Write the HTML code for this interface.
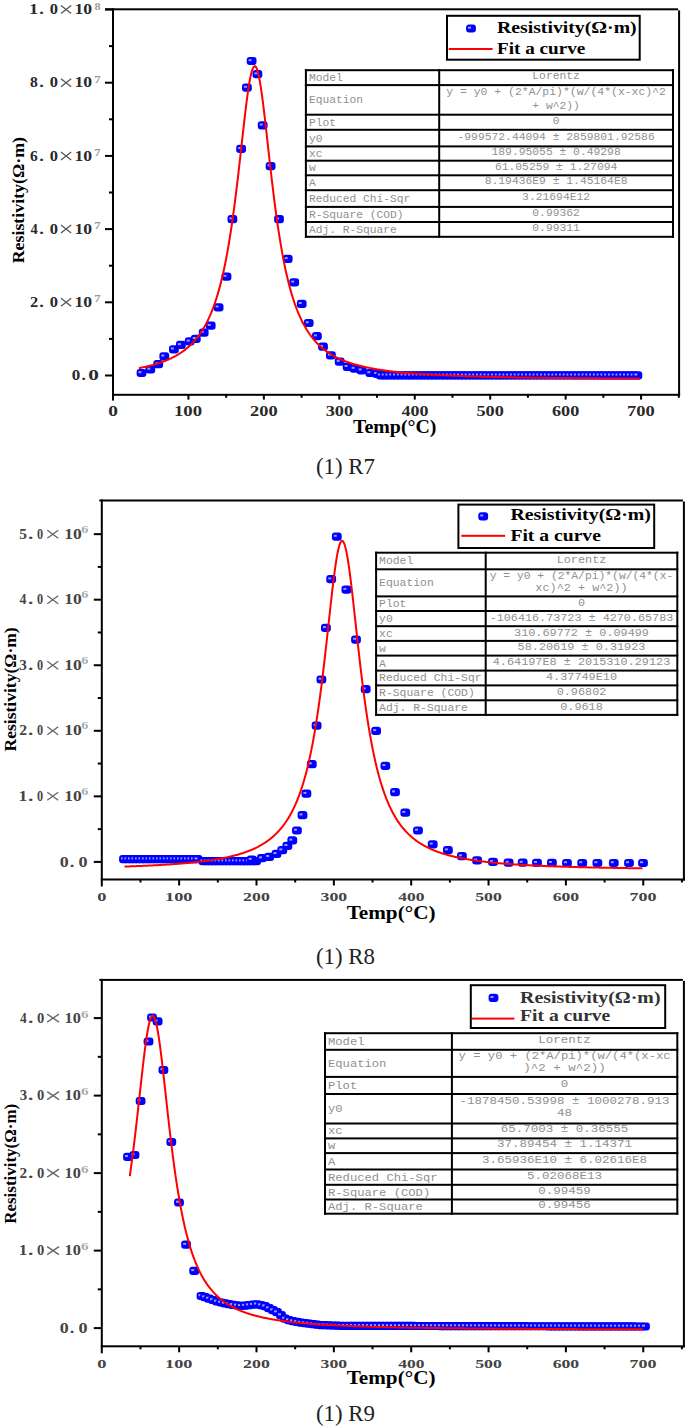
<!DOCTYPE html>
<html><head><meta charset="utf-8"><style>
html,body{margin:0;padding:0;background:#fff;}
body{width:685px;height:1426px;overflow:hidden;font-family:"Liberation Serif",serif;}
svg{display:block;}
</style></head><body>
<svg width="685" height="1426" viewBox="0 0 685 1426">
<rect width="685" height="1426" fill="#fff"/>
<rect x="105" y="8.3" width="573.1" height="2" fill="#000"/>
<rect x="678.1" y="10.3" width="2" height="385.5" fill="#000"/>
<rect x="112" y="8.3" width="2" height="392.3" fill="#000"/>
<rect x="112" y="393.8" width="568.1" height="2" fill="#000"/>
<rect x="105" y="374.5" width="8" height="2" fill="#000"/>
<rect x="109" y="337.9" width="4" height="2" fill="#000"/>
<rect x="105" y="301.3" width="8" height="2" fill="#000"/>
<rect x="109" y="264.7" width="4" height="2" fill="#000"/>
<rect x="105" y="228.1" width="8" height="2" fill="#000"/>
<rect x="109" y="191.5" width="4" height="2" fill="#000"/>
<rect x="105" y="154.9" width="8" height="2" fill="#000"/>
<rect x="109" y="118.3" width="4" height="2" fill="#000"/>
<rect x="105" y="81.7" width="8" height="2" fill="#000"/>
<rect x="109" y="45.1" width="4" height="2" fill="#000"/>
<rect x="105" y="8.5" width="8" height="2" fill="#000"/>
<rect x="187.44" y="394.8" width="2" height="4.8" fill="#000"/>
<rect x="225.16" y="394.8" width="2" height="3" fill="#000"/>
<rect x="262.88" y="394.8" width="2" height="4.8" fill="#000"/>
<rect x="300.6" y="394.8" width="2" height="3" fill="#000"/>
<rect x="338.32" y="394.8" width="2" height="4.8" fill="#000"/>
<rect x="376.04" y="394.8" width="2" height="3" fill="#000"/>
<rect x="413.76" y="394.8" width="2" height="4.8" fill="#000"/>
<rect x="451.48" y="394.8" width="2" height="3" fill="#000"/>
<rect x="489.2" y="394.8" width="2" height="4.8" fill="#000"/>
<rect x="526.92" y="394.8" width="2" height="3" fill="#000"/>
<rect x="564.64" y="394.8" width="2" height="4.8" fill="#000"/>
<rect x="602.36" y="394.8" width="2" height="3" fill="#000"/>
<rect x="640.08" y="394.8" width="2" height="4.8" fill="#000"/>
<rect x="677.8" y="394.8" width="2" height="3" fill="#000"/>
<text transform="translate(30.6,306.9) scale(1.1457,1)" x="-0.6" y="0" font-family="Liberation Serif" font-size="14.3" font-weight="bold" fill="#2a2a2a">2</text>
<text transform="translate(40,306.9) scale(1.2941,1)" x="-0.63" y="0" font-family="Liberation Serif" font-size="14.3" font-weight="bold" fill="#2a2a2a">.</text>
<text transform="translate(50.4,306.9) scale(1.1550,1)" x="-0.54" y="0" font-family="Liberation Serif" font-size="14.3" font-weight="bold" fill="#2a2a2a">0</text>
<path d="M61,298.3L71.2,306.3M61,306.3L71.2,298.3" stroke="#555" stroke-width="1.3" fill="none"/>
<text transform="translate(75.8,306.9) scale(1.2371,1)" x="-1.15" y="0" font-family="Liberation Serif" font-size="14.3" font-weight="bold" fill="#2a2a2a">10</text>
<text transform="translate(95,302.3) scale(1.2666,1)" x="-0.57" y="0" font-family="Liberation Serif" font-size="10" font-weight="bold" fill="#999">7</text>
<text transform="translate(30.6,233.7) scale(1.0166,1)" x="-0.2" y="0" font-family="Liberation Serif" font-size="14.3" font-weight="bold" fill="#2a2a2a">4</text>
<text transform="translate(40,233.7) scale(1.2941,1)" x="-0.63" y="0" font-family="Liberation Serif" font-size="14.3" font-weight="bold" fill="#2a2a2a">.</text>
<text transform="translate(50.4,233.7) scale(1.1550,1)" x="-0.54" y="0" font-family="Liberation Serif" font-size="14.3" font-weight="bold" fill="#2a2a2a">0</text>
<path d="M61,225.1L71.2,233.1M61,233.1L71.2,225.1" stroke="#555" stroke-width="1.3" fill="none"/>
<text transform="translate(75.8,233.7) scale(1.2371,1)" x="-1.15" y="0" font-family="Liberation Serif" font-size="14.3" font-weight="bold" fill="#2a2a2a">10</text>
<text transform="translate(95,229.1) scale(1.2666,1)" x="-0.57" y="0" font-family="Liberation Serif" font-size="10" font-weight="bold" fill="#999">7</text>
<text transform="translate(30.6,160.5) scale(1.0893,1)" x="-0.49" y="0" font-family="Liberation Serif" font-size="14.3" font-weight="bold" fill="#2a2a2a">6</text>
<text transform="translate(40,160.5) scale(1.2941,1)" x="-0.63" y="0" font-family="Liberation Serif" font-size="14.3" font-weight="bold" fill="#2a2a2a">.</text>
<text transform="translate(50.4,160.5) scale(1.1550,1)" x="-0.54" y="0" font-family="Liberation Serif" font-size="14.3" font-weight="bold" fill="#2a2a2a">0</text>
<path d="M61,151.9L71.2,159.9M61,159.9L71.2,151.9" stroke="#555" stroke-width="1.3" fill="none"/>
<text transform="translate(75.8,160.5) scale(1.2371,1)" x="-1.15" y="0" font-family="Liberation Serif" font-size="14.3" font-weight="bold" fill="#2a2a2a">10</text>
<text transform="translate(95,155.9) scale(1.2666,1)" x="-0.57" y="0" font-family="Liberation Serif" font-size="10" font-weight="bold" fill="#999">7</text>
<text transform="translate(30.6,87.3) scale(1.0967,1)" x="-0.47" y="0" font-family="Liberation Serif" font-size="14.3" font-weight="bold" fill="#2a2a2a">8</text>
<text transform="translate(40,87.3) scale(1.2941,1)" x="-0.63" y="0" font-family="Liberation Serif" font-size="14.3" font-weight="bold" fill="#2a2a2a">.</text>
<text transform="translate(50.4,87.3) scale(1.1550,1)" x="-0.54" y="0" font-family="Liberation Serif" font-size="14.3" font-weight="bold" fill="#2a2a2a">0</text>
<path d="M61,78.7L71.2,86.7M61,86.7L71.2,78.7" stroke="#555" stroke-width="1.3" fill="none"/>
<text transform="translate(75.8,87.3) scale(1.2371,1)" x="-1.15" y="0" font-family="Liberation Serif" font-size="14.3" font-weight="bold" fill="#2a2a2a">10</text>
<text transform="translate(95,82.7) scale(1.2666,1)" x="-0.57" y="0" font-family="Liberation Serif" font-size="10" font-weight="bold" fill="#999">7</text>
<text transform="translate(30.6,14.1) scale(1.2916,1)" x="-1.15" y="0" font-family="Liberation Serif" font-size="14.3" font-weight="bold" fill="#2a2a2a">1</text>
<text transform="translate(40,14.1) scale(1.2941,1)" x="-0.63" y="0" font-family="Liberation Serif" font-size="14.3" font-weight="bold" fill="#2a2a2a">.</text>
<text transform="translate(50.4,14.1) scale(1.1550,1)" x="-0.54" y="0" font-family="Liberation Serif" font-size="14.3" font-weight="bold" fill="#2a2a2a">0</text>
<path d="M61,5.5L71.2,13.5M61,13.5L71.2,5.5" stroke="#555" stroke-width="1.3" fill="none"/>
<text transform="translate(75.8,14.1) scale(1.2371,1)" x="-1.15" y="0" font-family="Liberation Serif" font-size="14.3" font-weight="bold" fill="#2a2a2a">10</text>
<text transform="translate(95,9.5) scale(1.2223,1)" x="-0.33" y="0" font-family="Liberation Serif" font-size="10" font-weight="bold" fill="#999">8</text>
<text transform="translate(72.3,380.1) scale(1.1880,1)" x="-0.54" y="0" font-family="Liberation Serif" font-size="14.3" font-weight="bold" fill="#2a2a2a">0</text>
<text transform="translate(82.2,380.1) scale(1.2079,1)" x="-0.63" y="0" font-family="Liberation Serif" font-size="14.3" font-weight="bold" fill="#2a2a2a">.</text>
<text transform="translate(89,380.1) scale(1.4850,1)" x="-0.54" y="0" font-family="Liberation Serif" font-size="14.3" font-weight="bold" fill="#2a2a2a">0</text>
<text transform="translate(108.9,416.2) scale(1.4020,1)" x="-0.53" y="0" font-family="Liberation Serif" font-size="13.8" font-weight="bold" fill="#2a2a2a">0</text>
<text transform="translate(175.44,416.2) scale(1.3634,1)" x="-1.11" y="0" font-family="Liberation Serif" font-size="13.8" font-weight="bold" fill="#2a2a2a">100</text>
<text transform="translate(250.88,416.2) scale(1.3269,1)" x="-0.58" y="0" font-family="Liberation Serif" font-size="13.8" font-weight="bold" fill="#2a2a2a">200</text>
<text transform="translate(326.32,416.2) scale(1.3228,1)" x="-0.52" y="0" font-family="Liberation Serif" font-size="13.8" font-weight="bold" fill="#2a2a2a">300</text>
<text transform="translate(401.76,416.2) scale(1.3009,1)" x="-0.19" y="0" font-family="Liberation Serif" font-size="13.8" font-weight="bold" fill="#2a2a2a">400</text>
<text transform="translate(477.2,416.2) scale(1.3251,1)" x="-0.55" y="0" font-family="Liberation Serif" font-size="13.8" font-weight="bold" fill="#2a2a2a">500</text>
<text transform="translate(552.64,416.2) scale(1.3196,1)" x="-0.47" y="0" font-family="Liberation Serif" font-size="13.8" font-weight="bold" fill="#2a2a2a">600</text>
<text transform="translate(628.08,416.2) scale(1.3412,1)" x="-0.79" y="0" font-family="Liberation Serif" font-size="13.8" font-weight="bold" fill="#2a2a2a">700</text>
<text x="353" y="433.2" font-family="Liberation Serif" font-size="18.5" font-weight="bold" fill="#000" text-anchor="start" textLength="83.5" lengthAdjust="spacingAndGlyphs">Temp(°C)</text>
<text transform="translate(24.2,263.3) rotate(-90)" x="0" y="0" font-family="Liberation Serif" font-size="17.5" font-weight="bold" fill="#000" textLength="126.3" lengthAdjust="spacingAndGlyphs">Resistivity(Ω·m)</text>
<text x="316" y="473.5" font-family="Liberation Serif" font-size="23" font-weight="normal" fill="#222" text-anchor="start" textLength="59" lengthAdjust="spacingAndGlyphs">(1) R7</text>
<rect x="136.6" y="368.9" width="9.8" height="8.2" rx="3" fill="#0000ff"/>
<rect x="138.5" y="371.2" width="3" height="2" fill="#9a9aff"/>
<rect x="145.4" y="365.4" width="9.8" height="8.2" rx="3" fill="#0000ff"/>
<rect x="147.3" y="367.7" width="3" height="2" fill="#9a9aff"/>
<rect x="153.3" y="360.1" width="9.8" height="8.2" rx="3" fill="#0000ff"/>
<rect x="155.2" y="362.4" width="3" height="2" fill="#9a9aff"/>
<rect x="159.4" y="352.2" width="9.8" height="8.2" rx="3" fill="#0000ff"/>
<rect x="161.3" y="354.5" width="3" height="2" fill="#9a9aff"/>
<rect x="169" y="345.2" width="9.8" height="8.2" rx="3" fill="#0000ff"/>
<rect x="170.9" y="347.5" width="3" height="2" fill="#9a9aff"/>
<rect x="176" y="340.8" width="9.8" height="8.2" rx="3" fill="#0000ff"/>
<rect x="177.9" y="343.1" width="3" height="2" fill="#9a9aff"/>
<rect x="184.8" y="337.3" width="9.8" height="8.2" rx="3" fill="#0000ff"/>
<rect x="186.7" y="339.6" width="3" height="2" fill="#9a9aff"/>
<rect x="190.9" y="334.7" width="9.8" height="8.2" rx="3" fill="#0000ff"/>
<rect x="192.8" y="337" width="3" height="2" fill="#9a9aff"/>
<rect x="198.8" y="328.6" width="9.8" height="8.2" rx="3" fill="#0000ff"/>
<rect x="200.7" y="330.9" width="3" height="2" fill="#9a9aff"/>
<rect x="205.8" y="321.6" width="9.8" height="8.2" rx="3" fill="#0000ff"/>
<rect x="207.7" y="323.9" width="3" height="2" fill="#9a9aff"/>
<rect x="213.7" y="303.2" width="9.8" height="8.2" rx="3" fill="#0000ff"/>
<rect x="215.6" y="305.5" width="3" height="2" fill="#9a9aff"/>
<rect x="221.6" y="272.5" width="9.8" height="8.2" rx="3" fill="#0000ff"/>
<rect x="223.5" y="274.8" width="3" height="2" fill="#9a9aff"/>
<rect x="227.5" y="215.1" width="9.8" height="8.2" rx="3" fill="#0000ff"/>
<rect x="229.4" y="217.4" width="3" height="2" fill="#9a9aff"/>
<rect x="236.2" y="144.8" width="9.8" height="8.2" rx="3" fill="#0000ff"/>
<rect x="238.1" y="147.1" width="3" height="2" fill="#9a9aff"/>
<rect x="242" y="83.5" width="9.8" height="8.2" rx="3" fill="#0000ff"/>
<rect x="243.9" y="85.8" width="3" height="2" fill="#9a9aff"/>
<rect x="246.7" y="56.9" width="9.8" height="8.2" rx="3" fill="#0000ff"/>
<rect x="248.6" y="59.2" width="3" height="2" fill="#9a9aff"/>
<rect x="252.5" y="70.1" width="9.8" height="8.2" rx="3" fill="#0000ff"/>
<rect x="254.4" y="72.4" width="3" height="2" fill="#9a9aff"/>
<rect x="257.8" y="121.2" width="9.8" height="8.2" rx="3" fill="#0000ff"/>
<rect x="259.7" y="123.5" width="3" height="2" fill="#9a9aff"/>
<rect x="265.7" y="162" width="9.8" height="8.2" rx="3" fill="#0000ff"/>
<rect x="267.6" y="164.3" width="3" height="2" fill="#9a9aff"/>
<rect x="274.1" y="215.1" width="9.8" height="8.2" rx="3" fill="#0000ff"/>
<rect x="276" y="217.4" width="3" height="2" fill="#9a9aff"/>
<rect x="282.8" y="254.8" width="9.8" height="8.2" rx="3" fill="#0000ff"/>
<rect x="284.7" y="257.1" width="3" height="2" fill="#9a9aff"/>
<rect x="289.3" y="278.3" width="9.8" height="8.2" rx="3" fill="#0000ff"/>
<rect x="291.2" y="280.6" width="3" height="2" fill="#9a9aff"/>
<rect x="296.8" y="299.7" width="9.8" height="8.2" rx="3" fill="#0000ff"/>
<rect x="298.7" y="302" width="3" height="2" fill="#9a9aff"/>
<rect x="303.8" y="318.9" width="9.8" height="8.2" rx="3" fill="#0000ff"/>
<rect x="305.7" y="321.2" width="3" height="2" fill="#9a9aff"/>
<rect x="312" y="332.1" width="9.8" height="8.2" rx="3" fill="#0000ff"/>
<rect x="313.9" y="334.4" width="3" height="2" fill="#9a9aff"/>
<rect x="318.1" y="342.6" width="9.8" height="8.2" rx="3" fill="#0000ff"/>
<rect x="320" y="344.9" width="3" height="2" fill="#9a9aff"/>
<rect x="326" y="351.3" width="9.8" height="8.2" rx="3" fill="#0000ff"/>
<rect x="327.9" y="353.6" width="3" height="2" fill="#9a9aff"/>
<rect x="334.8" y="357.5" width="9.8" height="8.2" rx="3" fill="#0000ff"/>
<rect x="336.7" y="359.8" width="3" height="2" fill="#9a9aff"/>
<rect x="342.7" y="362.7" width="9.8" height="8.2" rx="3" fill="#0000ff"/>
<rect x="344.6" y="365" width="3" height="2" fill="#9a9aff"/>
<rect x="349.7" y="364.5" width="9.8" height="8.2" rx="3" fill="#0000ff"/>
<rect x="351.6" y="366.8" width="3" height="2" fill="#9a9aff"/>
<rect x="356.7" y="366.2" width="9.8" height="8.2" rx="3" fill="#0000ff"/>
<rect x="358.6" y="368.5" width="3" height="2" fill="#9a9aff"/>
<rect x="365.4" y="368.9" width="9.8" height="8.2" rx="3" fill="#0000ff"/>
<rect x="367.3" y="371.2" width="3" height="2" fill="#9a9aff"/>
<rect x="372.4" y="369.7" width="9.8" height="8.2" rx="3" fill="#0000ff"/>
<rect x="374.3" y="372" width="3" height="2" fill="#9a9aff"/>
<rect x="376.1" y="371.2" width="9.8" height="8.2" rx="3" fill="#0000ff"/>
<rect x="378" y="373.5" width="3" height="2" fill="#9a9aff"/>
<rect x="379.87" y="371.2" width="9.8" height="8.2" rx="3" fill="#0000ff"/>
<rect x="381.77" y="373.5" width="3" height="2" fill="#9a9aff"/>
<rect x="383.64" y="371.2" width="9.8" height="8.2" rx="3" fill="#0000ff"/>
<rect x="385.54" y="373.5" width="3" height="2" fill="#9a9aff"/>
<rect x="387.41" y="371.2" width="9.8" height="8.2" rx="3" fill="#0000ff"/>
<rect x="389.31" y="373.5" width="3" height="2" fill="#9a9aff"/>
<rect x="391.18" y="371.2" width="9.8" height="8.2" rx="3" fill="#0000ff"/>
<rect x="393.08" y="373.5" width="3" height="2" fill="#9a9aff"/>
<rect x="394.95" y="371.2" width="9.8" height="8.2" rx="3" fill="#0000ff"/>
<rect x="396.85" y="373.5" width="3" height="2" fill="#9a9aff"/>
<rect x="398.72" y="371.2" width="9.8" height="8.2" rx="3" fill="#0000ff"/>
<rect x="400.62" y="373.5" width="3" height="2" fill="#9a9aff"/>
<rect x="402.49" y="371.2" width="9.8" height="8.2" rx="3" fill="#0000ff"/>
<rect x="404.39" y="373.5" width="3" height="2" fill="#9a9aff"/>
<rect x="406.26" y="371.2" width="9.8" height="8.2" rx="3" fill="#0000ff"/>
<rect x="408.16" y="373.5" width="3" height="2" fill="#9a9aff"/>
<rect x="410.03" y="371.2" width="9.8" height="8.2" rx="3" fill="#0000ff"/>
<rect x="411.93" y="373.5" width="3" height="2" fill="#9a9aff"/>
<rect x="413.8" y="371.2" width="9.8" height="8.2" rx="3" fill="#0000ff"/>
<rect x="415.7" y="373.5" width="3" height="2" fill="#9a9aff"/>
<rect x="417.57" y="371.2" width="9.8" height="8.2" rx="3" fill="#0000ff"/>
<rect x="419.47" y="373.5" width="3" height="2" fill="#9a9aff"/>
<rect x="421.34" y="371.2" width="9.8" height="8.2" rx="3" fill="#0000ff"/>
<rect x="423.24" y="373.5" width="3" height="2" fill="#9a9aff"/>
<rect x="425.11" y="371.2" width="9.8" height="8.2" rx="3" fill="#0000ff"/>
<rect x="427.01" y="373.5" width="3" height="2" fill="#9a9aff"/>
<rect x="428.88" y="371.2" width="9.8" height="8.2" rx="3" fill="#0000ff"/>
<rect x="430.78" y="373.5" width="3" height="2" fill="#9a9aff"/>
<rect x="432.65" y="371.2" width="9.8" height="8.2" rx="3" fill="#0000ff"/>
<rect x="434.55" y="373.5" width="3" height="2" fill="#9a9aff"/>
<rect x="436.42" y="371.2" width="9.8" height="8.2" rx="3" fill="#0000ff"/>
<rect x="438.32" y="373.5" width="3" height="2" fill="#9a9aff"/>
<rect x="440.19" y="371.2" width="9.8" height="8.2" rx="3" fill="#0000ff"/>
<rect x="442.09" y="373.5" width="3" height="2" fill="#9a9aff"/>
<rect x="443.96" y="371.2" width="9.8" height="8.2" rx="3" fill="#0000ff"/>
<rect x="445.86" y="373.5" width="3" height="2" fill="#9a9aff"/>
<rect x="447.73" y="371.2" width="9.8" height="8.2" rx="3" fill="#0000ff"/>
<rect x="449.63" y="373.5" width="3" height="2" fill="#9a9aff"/>
<rect x="451.5" y="371.2" width="9.8" height="8.2" rx="3" fill="#0000ff"/>
<rect x="453.4" y="373.5" width="3" height="2" fill="#9a9aff"/>
<rect x="455.27" y="371.2" width="9.8" height="8.2" rx="3" fill="#0000ff"/>
<rect x="457.17" y="373.5" width="3" height="2" fill="#9a9aff"/>
<rect x="459.04" y="371.2" width="9.8" height="8.2" rx="3" fill="#0000ff"/>
<rect x="460.94" y="373.5" width="3" height="2" fill="#9a9aff"/>
<rect x="462.81" y="371.2" width="9.8" height="8.2" rx="3" fill="#0000ff"/>
<rect x="464.71" y="373.5" width="3" height="2" fill="#9a9aff"/>
<rect x="466.58" y="371.2" width="9.8" height="8.2" rx="3" fill="#0000ff"/>
<rect x="468.48" y="373.5" width="3" height="2" fill="#9a9aff"/>
<rect x="470.35" y="371.2" width="9.8" height="8.2" rx="3" fill="#0000ff"/>
<rect x="472.25" y="373.5" width="3" height="2" fill="#9a9aff"/>
<rect x="474.12" y="371.2" width="9.8" height="8.2" rx="3" fill="#0000ff"/>
<rect x="476.02" y="373.5" width="3" height="2" fill="#9a9aff"/>
<rect x="477.89" y="371.2" width="9.8" height="8.2" rx="3" fill="#0000ff"/>
<rect x="479.79" y="373.5" width="3" height="2" fill="#9a9aff"/>
<rect x="481.66" y="371.2" width="9.8" height="8.2" rx="3" fill="#0000ff"/>
<rect x="483.56" y="373.5" width="3" height="2" fill="#9a9aff"/>
<rect x="485.43" y="371.2" width="9.8" height="8.2" rx="3" fill="#0000ff"/>
<rect x="487.33" y="373.5" width="3" height="2" fill="#9a9aff"/>
<rect x="489.2" y="371.2" width="9.8" height="8.2" rx="3" fill="#0000ff"/>
<rect x="491.1" y="373.5" width="3" height="2" fill="#9a9aff"/>
<rect x="492.97" y="371.2" width="9.8" height="8.2" rx="3" fill="#0000ff"/>
<rect x="494.87" y="373.5" width="3" height="2" fill="#9a9aff"/>
<rect x="496.74" y="371.2" width="9.8" height="8.2" rx="3" fill="#0000ff"/>
<rect x="498.64" y="373.5" width="3" height="2" fill="#9a9aff"/>
<rect x="500.51" y="371.2" width="9.8" height="8.2" rx="3" fill="#0000ff"/>
<rect x="502.41" y="373.5" width="3" height="2" fill="#9a9aff"/>
<rect x="504.28" y="371.2" width="9.8" height="8.2" rx="3" fill="#0000ff"/>
<rect x="506.18" y="373.5" width="3" height="2" fill="#9a9aff"/>
<rect x="508.05" y="371.2" width="9.8" height="8.2" rx="3" fill="#0000ff"/>
<rect x="509.95" y="373.5" width="3" height="2" fill="#9a9aff"/>
<rect x="511.82" y="371.2" width="9.8" height="8.2" rx="3" fill="#0000ff"/>
<rect x="513.72" y="373.5" width="3" height="2" fill="#9a9aff"/>
<rect x="515.59" y="371.2" width="9.8" height="8.2" rx="3" fill="#0000ff"/>
<rect x="517.49" y="373.5" width="3" height="2" fill="#9a9aff"/>
<rect x="519.36" y="371.2" width="9.8" height="8.2" rx="3" fill="#0000ff"/>
<rect x="521.26" y="373.5" width="3" height="2" fill="#9a9aff"/>
<rect x="523.13" y="371.2" width="9.8" height="8.2" rx="3" fill="#0000ff"/>
<rect x="525.03" y="373.5" width="3" height="2" fill="#9a9aff"/>
<rect x="526.9" y="371.2" width="9.8" height="8.2" rx="3" fill="#0000ff"/>
<rect x="528.8" y="373.5" width="3" height="2" fill="#9a9aff"/>
<rect x="530.67" y="371.2" width="9.8" height="8.2" rx="3" fill="#0000ff"/>
<rect x="532.57" y="373.5" width="3" height="2" fill="#9a9aff"/>
<rect x="534.44" y="371.2" width="9.8" height="8.2" rx="3" fill="#0000ff"/>
<rect x="536.34" y="373.5" width="3" height="2" fill="#9a9aff"/>
<rect x="538.21" y="371.2" width="9.8" height="8.2" rx="3" fill="#0000ff"/>
<rect x="540.11" y="373.5" width="3" height="2" fill="#9a9aff"/>
<rect x="541.98" y="371.2" width="9.8" height="8.2" rx="3" fill="#0000ff"/>
<rect x="543.88" y="373.5" width="3" height="2" fill="#9a9aff"/>
<rect x="545.75" y="371.2" width="9.8" height="8.2" rx="3" fill="#0000ff"/>
<rect x="547.65" y="373.5" width="3" height="2" fill="#9a9aff"/>
<rect x="549.52" y="371.2" width="9.8" height="8.2" rx="3" fill="#0000ff"/>
<rect x="551.42" y="373.5" width="3" height="2" fill="#9a9aff"/>
<rect x="553.29" y="371.2" width="9.8" height="8.2" rx="3" fill="#0000ff"/>
<rect x="555.19" y="373.5" width="3" height="2" fill="#9a9aff"/>
<rect x="557.06" y="371.2" width="9.8" height="8.2" rx="3" fill="#0000ff"/>
<rect x="558.96" y="373.5" width="3" height="2" fill="#9a9aff"/>
<rect x="560.83" y="371.2" width="9.8" height="8.2" rx="3" fill="#0000ff"/>
<rect x="562.73" y="373.5" width="3" height="2" fill="#9a9aff"/>
<rect x="564.6" y="371.2" width="9.8" height="8.2" rx="3" fill="#0000ff"/>
<rect x="566.5" y="373.5" width="3" height="2" fill="#9a9aff"/>
<rect x="568.37" y="371.2" width="9.8" height="8.2" rx="3" fill="#0000ff"/>
<rect x="570.27" y="373.5" width="3" height="2" fill="#9a9aff"/>
<rect x="572.14" y="371.2" width="9.8" height="8.2" rx="3" fill="#0000ff"/>
<rect x="574.04" y="373.5" width="3" height="2" fill="#9a9aff"/>
<rect x="575.91" y="371.2" width="9.8" height="8.2" rx="3" fill="#0000ff"/>
<rect x="577.81" y="373.5" width="3" height="2" fill="#9a9aff"/>
<rect x="579.68" y="371.2" width="9.8" height="8.2" rx="3" fill="#0000ff"/>
<rect x="581.58" y="373.5" width="3" height="2" fill="#9a9aff"/>
<rect x="583.45" y="371.2" width="9.8" height="8.2" rx="3" fill="#0000ff"/>
<rect x="585.35" y="373.5" width="3" height="2" fill="#9a9aff"/>
<rect x="587.22" y="371.2" width="9.8" height="8.2" rx="3" fill="#0000ff"/>
<rect x="589.12" y="373.5" width="3" height="2" fill="#9a9aff"/>
<rect x="590.99" y="371.2" width="9.8" height="8.2" rx="3" fill="#0000ff"/>
<rect x="592.89" y="373.5" width="3" height="2" fill="#9a9aff"/>
<rect x="594.76" y="371.2" width="9.8" height="8.2" rx="3" fill="#0000ff"/>
<rect x="596.66" y="373.5" width="3" height="2" fill="#9a9aff"/>
<rect x="598.53" y="371.2" width="9.8" height="8.2" rx="3" fill="#0000ff"/>
<rect x="600.43" y="373.5" width="3" height="2" fill="#9a9aff"/>
<rect x="602.3" y="371.2" width="9.8" height="8.2" rx="3" fill="#0000ff"/>
<rect x="604.2" y="373.5" width="3" height="2" fill="#9a9aff"/>
<rect x="606.07" y="371.2" width="9.8" height="8.2" rx="3" fill="#0000ff"/>
<rect x="607.97" y="373.5" width="3" height="2" fill="#9a9aff"/>
<rect x="609.84" y="371.2" width="9.8" height="8.2" rx="3" fill="#0000ff"/>
<rect x="611.74" y="373.5" width="3" height="2" fill="#9a9aff"/>
<rect x="613.61" y="371.2" width="9.8" height="8.2" rx="3" fill="#0000ff"/>
<rect x="615.51" y="373.5" width="3" height="2" fill="#9a9aff"/>
<rect x="617.38" y="371.2" width="9.8" height="8.2" rx="3" fill="#0000ff"/>
<rect x="619.28" y="373.5" width="3" height="2" fill="#9a9aff"/>
<rect x="621.15" y="371.2" width="9.8" height="8.2" rx="3" fill="#0000ff"/>
<rect x="623.05" y="373.5" width="3" height="2" fill="#9a9aff"/>
<rect x="624.92" y="371.2" width="9.8" height="8.2" rx="3" fill="#0000ff"/>
<rect x="626.82" y="373.5" width="3" height="2" fill="#9a9aff"/>
<rect x="628.69" y="371.2" width="9.8" height="8.2" rx="3" fill="#0000ff"/>
<rect x="630.59" y="373.5" width="3" height="2" fill="#9a9aff"/>
<rect x="632.46" y="371.2" width="9.8" height="8.2" rx="3" fill="#0000ff"/>
<rect x="634.36" y="373.5" width="3" height="2" fill="#9a9aff"/>
<polyline points="138.9,368.16 139.9,367.97 140.9,367.77 141.9,367.56 142.9,367.35 143.9,367.14 144.9,366.92 145.9,366.69 146.9,366.46 147.9,366.22 148.9,365.97 149.9,365.72 150.9,365.46 151.9,365.2 152.9,364.92 153.9,364.64 154.9,364.36 155.9,364.06 156.9,363.75 157.9,363.44 158.9,363.12 159.9,362.78 160.9,362.44 161.9,362.09 162.9,361.72 163.9,361.35 164.9,360.96 165.9,360.56 166.9,360.15 167.9,359.72 168.9,359.29 169.9,358.83 170.9,358.37 171.9,357.88 172.9,357.39 173.9,356.87 174.9,356.34 175.9,355.79 176.9,355.21 177.9,354.62 178.9,354.01 179.9,353.38 180.9,352.72 181.9,352.04 182.9,351.34 183.9,350.6 184.9,349.84 185.9,349.05 186.9,348.23 187.9,347.38 188.9,346.5 189.9,345.58 190.9,344.62 191.9,343.62 192.9,342.58 193.9,341.5 194.9,340.38 195.9,339.2 196.9,337.98 197.9,336.7 198.9,335.36 199.9,333.97 200.9,332.51 201.9,330.99 202.9,329.39 203.9,327.72 204.9,325.98 205.9,324.15 206.9,322.23 207.9,320.22 208.9,318.11 209.9,315.89 210.9,313.57 211.9,311.12 212.9,308.56 213.9,305.86 214.9,303.02 215.9,300.04 216.9,296.89 217.9,293.59 218.9,290.1 219.9,286.43 220.9,282.57 221.9,278.5 222.9,274.21 223.9,269.69 224.9,264.94 225.9,259.93 226.9,254.66 227.9,249.11 228.9,243.29 229.9,237.17 230.9,230.75 231.9,224.03 232.9,217.01 233.9,209.68 234.9,202.05 235.9,194.14 236.9,185.95 237.9,177.52 238.9,168.88 239.9,160.07 240.9,151.13 241.9,142.15 242.9,133.18 243.9,124.33 244.9,115.68 245.9,107.35 246.9,99.46 247.9,92.13 248.9,85.49 249.9,79.65 250.9,74.74 251.9,70.86 252.9,68.08 253.9,66.48 254.9,66.09 255.9,66.92 256.9,68.95 257.9,72.13 258.9,76.4 259.9,81.65 260.9,87.79 261.9,94.7 262.9,102.24 263.9,110.31 264.9,118.76 265.9,127.49 266.9,136.4 267.9,145.38 268.9,154.36 269.9,163.26 270.9,172.01 271.9,180.59 272.9,188.93 273.9,197.02 274.9,204.83 275.9,212.35 276.9,219.57 277.9,226.49 278.9,233.1 279.9,239.41 280.9,245.42 281.9,251.14 282.9,256.59 283.9,261.76 284.9,266.68 285.9,271.35 286.9,275.78 287.9,279.99 288.9,283.98 289.9,287.78 290.9,291.38 291.9,294.8 292.9,298.04 293.9,301.13 294.9,304.06 295.9,306.85 296.9,309.5 297.9,312.02 298.9,314.42 299.9,316.7 300.9,318.88 301.9,320.95 302.9,322.93 303.9,324.81 304.9,326.61 305.9,328.33 306.9,329.97 307.9,331.54 308.9,333.04 309.9,334.48 310.9,335.85 311.9,337.16 312.9,338.42 313.9,339.63 314.9,340.79 315.9,341.9 316.9,342.96 317.9,343.99 318.9,344.97 319.9,345.91 320.9,346.82 321.9,347.69 322.9,348.53 323.9,349.34 324.9,350.12 325.9,350.87 326.9,351.59 327.9,352.29 328.9,352.96 329.9,353.61 330.9,354.23 331.9,354.84 332.9,355.42 333.9,355.99 334.9,356.53 335.9,357.06 336.9,357.57 337.9,358.06 338.9,358.54 339.9,359 340.9,359.45 341.9,359.88 342.9,360.3 343.9,360.71 344.9,361.1 345.9,361.48 346.9,361.85 347.9,362.21 348.9,362.56 349.9,362.9 350.9,363.23 351.9,363.55 352.9,363.86 353.9,364.17 354.9,364.46 355.9,364.75 356.9,365.02 357.9,365.29 358.9,365.56 359.9,365.81 360.9,366.06 361.9,366.31 362.9,366.54 363.9,366.77 364.9,367 365.9,367.22 366.9,367.43 367.9,367.64 368.9,367.84 369.9,368.04 370.9,368.23 371.9,368.42 372.9,368.6 373.9,368.78 374.9,368.96 375.9,369.13 376.9,369.29 377.9,369.46 378.9,369.62 379.9,369.77 380.9,369.92 381.9,370.07 382.9,370.22 383.9,370.36 384.9,370.5 385.9,370.64 386.9,370.77 387.9,370.9 388.9,371.03 389.9,371.15 390.9,371.27 391.9,371.39 392.9,371.51 393.9,371.62 394.9,371.74 395.9,371.85 396.9,371.95 397.9,372.06 398.9,372.16 399.9,372.26 400.9,372.36 401.9,372.46 402.9,372.56 403.9,372.65 404.9,372.74 405.9,372.83 406.9,372.92 407.9,373.01 408.9,373.09 409.9,373.17 410.9,373.26 411.9,373.34 412.9,373.42 413.9,373.49 414.9,373.57 415.9,373.64 416.9,373.72 417.9,373.79 418.9,373.86 419.9,373.93 420.9,374 421.9,374.06 422.9,374.13 423.9,374.19 424.9,374.26 425.9,374.32 426.9,374.38 427.9,374.44 428.9,374.5 429.9,374.56 430.9,374.62 431.9,374.67 432.9,374.73 433.9,374.78 434.9,374.84 435.9,374.89 436.9,374.94 437.9,374.99 438.9,375.05 439.9,375.09 440.9,375.14 441.9,375.19 442.9,375.24 443.9,375.29 444.9,375.33 445.9,375.38 446.9,375.42 447.9,375.46 448.9,375.51 449.9,375.55 450.9,375.59 451.9,375.63 452.9,375.67 453.9,375.71 454.9,375.75 455.9,375.79 456.9,375.83 457.9,375.87 458.9,375.91 459.9,375.94 460.9,375.98 461.9,376.01 462.9,376.05 463.9,376.08 464.9,376.12 465.9,376.15 466.9,376.18 467.9,376.22 468.9,376.25 469.9,376.28 470.9,376.31 471.9,376.34 472.9,376.37 473.9,376.4 474.9,376.43 475.9,376.46 476.9,376.49 477.9,376.52 478.9,376.55 479.9,376.58 480.9,376.6 481.9,376.63 482.9,376.66 483.9,376.68 484.9,376.71 485.9,376.74 486.9,376.76 487.9,376.79 488.9,376.81 489.9,376.84 490.9,376.86 491.9,376.88 492.9,376.91 493.9,376.93 494.9,376.95 495.9,376.98 496.9,377 497.9,377.02 498.9,377.04 499.9,377.06 500.9,377.09 501.9,377.11 502.9,377.13 503.9,377.15 504.9,377.17 505.9,377.19 506.9,377.21 507.9,377.23 508.9,377.25 509.9,377.27 510.9,377.29 511.9,377.3 512.9,377.32 513.9,377.34 514.9,377.36 515.9,377.38 516.9,377.4 517.9,377.41 518.9,377.43 519.9,377.45 520.9,377.46 521.9,377.48 522.9,377.5 523.9,377.51 524.9,377.53 525.9,377.55 526.9,377.56 527.9,377.58 528.9,377.59 529.9,377.61 530.9,377.62 531.9,377.64 532.9,377.65 533.9,377.67 534.9,377.68 535.9,377.7 536.9,377.71 537.9,377.73 538.9,377.74 539.9,377.75 540.9,377.77 541.9,377.78 542.9,377.79 543.9,377.81 544.9,377.82 545.9,377.83 546.9,377.85 547.9,377.86 548.9,377.87 549.9,377.88 550.9,377.9 551.9,377.91 552.9,377.92 553.9,377.93 554.9,377.94 555.9,377.96 556.9,377.97 557.9,377.98 558.9,377.99 559.9,378 560.9,378.01 561.9,378.02 562.9,378.03 563.9,378.04 564.9,378.06 565.9,378.07 566.9,378.08 567.9,378.09 568.9,378.1 569.9,378.11 570.9,378.12 571.9,378.13 572.9,378.14 573.9,378.15 574.9,378.16 575.9,378.17 576.9,378.18 577.9,378.19 578.9,378.2 579.9,378.2 580.9,378.21 581.9,378.22 582.9,378.23 583.9,378.24 584.9,378.25 585.9,378.26 586.9,378.27 587.9,378.28 588.9,378.29 589.9,378.29 590.9,378.3 591.9,378.31 592.9,378.32 593.9,378.33 594.9,378.34 595.9,378.34 596.9,378.35 597.9,378.36 598.9,378.37 599.9,378.37 600.9,378.38 601.9,378.39 602.9,378.4 603.9,378.41 604.9,378.41 605.9,378.42 606.9,378.43 607.9,378.43 608.9,378.44 609.9,378.45 610.9,378.46 611.9,378.46 612.9,378.47 613.9,378.48 614.9,378.48 615.9,378.49 616.9,378.5 617.9,378.5 618.9,378.51 619.9,378.52 620.9,378.52 621.9,378.53 622.9,378.54 623.9,378.54 624.9,378.55 625.9,378.56 626.9,378.56 627.9,378.57 628.9,378.57 629.9,378.58 630.9,378.59 631.9,378.59 632.9,378.6 633.9,378.6 634.9,378.61 635.9,378.62 636.9,378.62 637.9,378.63 638.9,378.63 639.9,378.64" fill="none" stroke="#ff0000" stroke-width="2"/>
<rect x="447" y="15.8" width="192.7" height="43.9" fill="#fff" stroke="#000" stroke-width="2"/>
<rect x="466.1" y="24.4" width="9.8" height="8.2" rx="3" fill="#0000ff"/>
<rect x="468" y="26.7" width="3" height="2" fill="#9a9aff"/>
<rect x="448.7" y="48" width="43.9" height="2" fill="#ff0000"/>
<text x="497" y="33.4" font-family="Liberation Serif" font-size="17.5" font-weight="bold" fill="#000" text-anchor="start" textLength="139.7" lengthAdjust="spacingAndGlyphs">Resistivity(Ω·m)</text>
<text x="497" y="53.9" font-family="Liberation Serif" font-size="17.5" font-weight="bold" fill="#000" text-anchor="start" textLength="88.3" lengthAdjust="spacingAndGlyphs">Fit a curve</text>
<rect x="305.9" y="70.2" width="367.1" height="166.6" fill="#fff"/>
<rect x="304.9" y="69.2" width="369.1" height="2" fill="#000"/>
<rect x="304.9" y="84.1" width="369.1" height="2" fill="#000"/>
<rect x="304.9" y="113.7" width="369.1" height="2" fill="#000"/>
<rect x="304.9" y="128.8" width="369.1" height="2" fill="#000"/>
<rect x="304.9" y="145.4" width="369.1" height="2" fill="#000"/>
<rect x="304.9" y="159.7" width="369.1" height="2" fill="#000"/>
<rect x="304.9" y="174.3" width="369.1" height="2" fill="#000"/>
<rect x="304.9" y="189.2" width="369.1" height="2" fill="#000"/>
<rect x="304.9" y="205.9" width="369.1" height="2" fill="#000"/>
<rect x="304.9" y="221" width="369.1" height="2" fill="#000"/>
<rect x="304.9" y="235.8" width="369.1" height="2" fill="#000"/>
<rect x="304.9" y="69.2" width="2" height="168.6" fill="#000"/>
<rect x="438.2" y="69.2" width="2" height="168.6" fill="#000"/>
<rect x="672" y="69.2" width="2" height="168.6" fill="#000"/>
<text x="308.9" y="81.12" font-family="Liberation Mono" font-size="10.5" font-weight="normal" fill="#909090" text-anchor="start" textLength="33.75" lengthAdjust="spacingAndGlyphs">Model</text>
<text x="556.1" y="79.32" font-family="Liberation Mono" font-size="10.5" font-weight="normal" fill="#909090" text-anchor="middle" textLength="47.6" lengthAdjust="spacingAndGlyphs">Lorentz</text>
<text x="308.9" y="103.37" font-family="Liberation Mono" font-size="10.5" font-weight="normal" fill="#909090" text-anchor="start" textLength="54" lengthAdjust="spacingAndGlyphs">Equation</text>
<text x="556.1" y="94.57" font-family="Liberation Mono" font-size="10.5" font-weight="normal" fill="#909090" text-anchor="middle" textLength="219.7" lengthAdjust="spacingAndGlyphs">y = y0 + (2*A/pi)*(w/(4*(x-xc)^2</text>
<text x="556.1" y="108.57" font-family="Liberation Mono" font-size="10.5" font-weight="normal" fill="#909090" text-anchor="middle" textLength="47.6" lengthAdjust="spacingAndGlyphs">+ w^2))</text>
<text x="308.9" y="125.72" font-family="Liberation Mono" font-size="10.5" font-weight="normal" fill="#909090" text-anchor="start" textLength="27" lengthAdjust="spacingAndGlyphs">Plot</text>
<text x="556.1" y="123.92" font-family="Liberation Mono" font-size="10.5" font-weight="normal" fill="#909090" text-anchor="middle" textLength="6.8" lengthAdjust="spacingAndGlyphs">0</text>
<text x="308.9" y="141.57" font-family="Liberation Mono" font-size="10.5" font-weight="normal" fill="#909090" text-anchor="start" textLength="13.5" lengthAdjust="spacingAndGlyphs">y0</text>
<text x="556.1" y="139.77" font-family="Liberation Mono" font-size="10.5" font-weight="normal" fill="#909090" text-anchor="middle" textLength="197.2" lengthAdjust="spacingAndGlyphs">-999572.44094 ± 2859801.92586</text>
<text x="308.9" y="157.02" font-family="Liberation Mono" font-size="10.5" font-weight="normal" fill="#909090" text-anchor="start" textLength="13.5" lengthAdjust="spacingAndGlyphs">xc</text>
<text x="556.1" y="155.22" font-family="Liberation Mono" font-size="10.5" font-weight="normal" fill="#909090" text-anchor="middle" textLength="129.2" lengthAdjust="spacingAndGlyphs">189.95055 ± 0.49298</text>
<text x="308.9" y="171.47" font-family="Liberation Mono" font-size="10.5" font-weight="normal" fill="#909090" text-anchor="start" textLength="6.75" lengthAdjust="spacingAndGlyphs">w</text>
<text x="556.1" y="169.66" font-family="Liberation Mono" font-size="10.5" font-weight="normal" fill="#909090" text-anchor="middle" textLength="122.4" lengthAdjust="spacingAndGlyphs">61.05259 ± 1.27094</text>
<text x="308.9" y="186.22" font-family="Liberation Mono" font-size="10.5" font-weight="normal" fill="#909090" text-anchor="start" textLength="6.75" lengthAdjust="spacingAndGlyphs">A</text>
<text x="556.1" y="184.41" font-family="Liberation Mono" font-size="10.5" font-weight="normal" fill="#909090" text-anchor="middle" textLength="142.8" lengthAdjust="spacingAndGlyphs">8.19436E9 ± 1.45164E8</text>
<text x="308.9" y="202.02" font-family="Liberation Mono" font-size="10.5" font-weight="normal" fill="#909090" text-anchor="start" textLength="101.25" lengthAdjust="spacingAndGlyphs">Reduced Chi-Sqr</text>
<text x="556.1" y="200.22" font-family="Liberation Mono" font-size="10.5" font-weight="normal" fill="#909090" text-anchor="middle" textLength="68" lengthAdjust="spacingAndGlyphs">3.21694E12</text>
<text x="308.9" y="217.91" font-family="Liberation Mono" font-size="10.5" font-weight="normal" fill="#909090" text-anchor="start" textLength="94.5" lengthAdjust="spacingAndGlyphs">R-Square (COD)</text>
<text x="556.1" y="216.11" font-family="Liberation Mono" font-size="10.5" font-weight="normal" fill="#909090" text-anchor="middle" textLength="47.6" lengthAdjust="spacingAndGlyphs">0.99362</text>
<text x="308.9" y="232.87" font-family="Liberation Mono" font-size="10.5" font-weight="normal" fill="#909090" text-anchor="start" textLength="87.75" lengthAdjust="spacingAndGlyphs">Adj. R-Square</text>
<text x="556.1" y="231.06" font-family="Liberation Mono" font-size="10.5" font-weight="normal" fill="#909090" text-anchor="middle" textLength="47.6" lengthAdjust="spacingAndGlyphs">0.99311</text>
<rect x="99.3" y="499.5" width="583.6" height="2" fill="#000"/>
<rect x="682.9" y="501.5" width="2" height="379" fill="#000"/>
<rect x="100.8" y="499.5" width="2" height="387" fill="#000"/>
<rect x="100.8" y="878.5" width="584.1" height="2" fill="#000"/>
<rect x="93.8" y="860.9" width="8" height="2" fill="#000"/>
<rect x="97.8" y="828.12" width="4" height="2" fill="#000"/>
<rect x="93.8" y="795.35" width="8" height="2" fill="#000"/>
<rect x="97.8" y="762.58" width="4" height="2" fill="#000"/>
<rect x="93.8" y="729.8" width="8" height="2" fill="#000"/>
<rect x="97.8" y="697.02" width="4" height="2" fill="#000"/>
<rect x="93.8" y="664.25" width="8" height="2" fill="#000"/>
<rect x="97.8" y="631.48" width="4" height="2" fill="#000"/>
<rect x="93.8" y="598.7" width="8" height="2" fill="#000"/>
<rect x="97.8" y="565.92" width="4" height="2" fill="#000"/>
<rect x="93.8" y="533.15" width="8" height="2" fill="#000"/>
<rect x="139.47" y="879.5" width="2" height="3" fill="#000"/>
<rect x="178.15" y="879.5" width="2" height="6" fill="#000"/>
<rect x="216.82" y="879.5" width="2" height="3" fill="#000"/>
<rect x="255.5" y="879.5" width="2" height="6" fill="#000"/>
<rect x="294.18" y="879.5" width="2" height="3" fill="#000"/>
<rect x="332.85" y="879.5" width="2" height="6" fill="#000"/>
<rect x="371.52" y="879.5" width="2" height="3" fill="#000"/>
<rect x="410.2" y="879.5" width="2" height="6" fill="#000"/>
<rect x="448.88" y="879.5" width="2" height="3" fill="#000"/>
<rect x="487.55" y="879.5" width="2" height="6" fill="#000"/>
<rect x="526.22" y="879.5" width="2" height="3" fill="#000"/>
<rect x="564.9" y="879.5" width="2" height="6" fill="#000"/>
<rect x="603.57" y="879.5" width="2" height="3" fill="#000"/>
<rect x="642.25" y="879.5" width="2" height="6" fill="#000"/>
<rect x="680.92" y="879.5" width="2" height="3" fill="#000"/>
<text transform="translate(19.8,800.95) scale(1.2611,1)" x="-1.12" y="0" font-family="Liberation Serif" font-size="14" font-weight="bold" fill="#444">1</text>
<text transform="translate(29,800.95) scale(1.5422,1)" x="-0.62" y="0" font-family="Liberation Serif" font-size="14" font-weight="bold" fill="#444">.</text>
<text transform="translate(37.4,800.95) scale(0.8764,1)" x="-0.53" y="0" font-family="Liberation Serif" font-size="14" font-weight="bold" fill="#444">0</text>
<path d="M47.3,792.35L58.2,800.35M47.3,800.35L58.2,792.35" stroke="#666" stroke-width="1.3" fill="none"/>
<text transform="translate(65.7,800.95) scale(1.2555,1)" x="-1.12" y="0" font-family="Liberation Serif" font-size="14" font-weight="bold" fill="#444">10</text>
<text transform="translate(81.8,794.95) scale(1.4203,1)" x="-0.34" y="0" font-family="Liberation Serif" font-size="10" font-weight="bold" fill="#aaa">6</text>
<text transform="translate(19.8,735.4) scale(1.1187,1)" x="-0.59" y="0" font-family="Liberation Serif" font-size="14" font-weight="bold" fill="#444">2</text>
<text transform="translate(29,735.4) scale(1.5422,1)" x="-0.62" y="0" font-family="Liberation Serif" font-size="14" font-weight="bold" fill="#444">.</text>
<text transform="translate(37.4,735.4) scale(0.8764,1)" x="-0.53" y="0" font-family="Liberation Serif" font-size="14" font-weight="bold" fill="#444">0</text>
<path d="M47.3,726.8L58.2,734.8M47.3,734.8L58.2,726.8" stroke="#666" stroke-width="1.3" fill="none"/>
<text transform="translate(65.7,735.4) scale(1.2555,1)" x="-1.12" y="0" font-family="Liberation Serif" font-size="14" font-weight="bold" fill="#444">10</text>
<text transform="translate(81.8,729.4) scale(1.4203,1)" x="-0.34" y="0" font-family="Liberation Serif" font-size="10" font-weight="bold" fill="#aaa">6</text>
<text transform="translate(19.8,669.85) scale(1.0842,1)" x="-0.53" y="0" font-family="Liberation Serif" font-size="14" font-weight="bold" fill="#444">3</text>
<text transform="translate(29,669.85) scale(1.5422,1)" x="-0.62" y="0" font-family="Liberation Serif" font-size="14" font-weight="bold" fill="#444">.</text>
<text transform="translate(37.4,669.85) scale(0.8764,1)" x="-0.53" y="0" font-family="Liberation Serif" font-size="14" font-weight="bold" fill="#444">0</text>
<path d="M47.3,661.25L58.2,669.25M47.3,669.25L58.2,661.25" stroke="#666" stroke-width="1.3" fill="none"/>
<text transform="translate(65.7,669.85) scale(1.2555,1)" x="-1.12" y="0" font-family="Liberation Serif" font-size="14" font-weight="bold" fill="#444">10</text>
<text transform="translate(81.8,663.85) scale(1.4203,1)" x="-0.34" y="0" font-family="Liberation Serif" font-size="10" font-weight="bold" fill="#aaa">6</text>
<text transform="translate(19.8,604.3) scale(0.9925,1)" x="-0.19" y="0" font-family="Liberation Serif" font-size="14" font-weight="bold" fill="#444">4</text>
<text transform="translate(29,604.3) scale(1.5422,1)" x="-0.62" y="0" font-family="Liberation Serif" font-size="14" font-weight="bold" fill="#444">.</text>
<text transform="translate(37.4,604.3) scale(0.8764,1)" x="-0.53" y="0" font-family="Liberation Serif" font-size="14" font-weight="bold" fill="#444">0</text>
<path d="M47.3,595.7L58.2,603.7M47.3,603.7L58.2,595.7" stroke="#666" stroke-width="1.3" fill="none"/>
<text transform="translate(65.7,604.3) scale(1.2555,1)" x="-1.12" y="0" font-family="Liberation Serif" font-size="14" font-weight="bold" fill="#444">10</text>
<text transform="translate(81.8,598.3) scale(1.4203,1)" x="-0.34" y="0" font-family="Liberation Serif" font-size="10" font-weight="bold" fill="#aaa">6</text>
<text transform="translate(19.8,538.75) scale(1.0967,1)" x="-0.56" y="0" font-family="Liberation Serif" font-size="14" font-weight="bold" fill="#444">5</text>
<text transform="translate(29,538.75) scale(1.5422,1)" x="-0.62" y="0" font-family="Liberation Serif" font-size="14" font-weight="bold" fill="#444">.</text>
<text transform="translate(37.4,538.75) scale(0.8764,1)" x="-0.53" y="0" font-family="Liberation Serif" font-size="14" font-weight="bold" fill="#444">0</text>
<path d="M47.3,530.15L58.2,538.15M47.3,538.15L58.2,530.15" stroke="#666" stroke-width="1.3" fill="none"/>
<text transform="translate(65.7,538.75) scale(1.2555,1)" x="-1.12" y="0" font-family="Liberation Serif" font-size="14" font-weight="bold" fill="#444">10</text>
<text transform="translate(81.8,532.75) scale(1.4203,1)" x="-0.34" y="0" font-family="Liberation Serif" font-size="10" font-weight="bold" fill="#aaa">6</text>
<text transform="translate(60.4,866.5) scale(1.2808,1)" x="-0.53" y="0" font-family="Liberation Serif" font-size="14" font-weight="bold" fill="#444">0</text>
<text transform="translate(70.5,866.5) scale(1.3219,1)" x="-0.62" y="0" font-family="Liberation Serif" font-size="14" font-weight="bold" fill="#444">.</text>
<text transform="translate(79.3,866.5) scale(1.2977,1)" x="-0.53" y="0" font-family="Liberation Serif" font-size="14" font-weight="bold" fill="#444">0</text>
<text transform="translate(97.9,901) scale(1.3632,1)" x="-0.51" y="0" font-family="Liberation Serif" font-size="13.5" font-weight="bold" fill="#444">0</text>
<text transform="translate(166.5,901) scale(1.3562,1)" x="-1.08" y="0" font-family="Liberation Serif" font-size="13.5" font-weight="bold" fill="#444">100</text>
<text transform="translate(243.85,901) scale(1.3198,1)" x="-0.57" y="0" font-family="Liberation Serif" font-size="13.5" font-weight="bold" fill="#444">200</text>
<text transform="translate(321.2,901) scale(1.3158,1)" x="-0.51" y="0" font-family="Liberation Serif" font-size="13.5" font-weight="bold" fill="#444">300</text>
<text transform="translate(398.55,901) scale(1.2940,1)" x="-0.18" y="0" font-family="Liberation Serif" font-size="13.5" font-weight="bold" fill="#444">400</text>
<text transform="translate(475.9,901) scale(1.3180,1)" x="-0.54" y="0" font-family="Liberation Serif" font-size="13.5" font-weight="bold" fill="#444">500</text>
<text transform="translate(553.25,901) scale(1.3126,1)" x="-0.46" y="0" font-family="Liberation Serif" font-size="13.5" font-weight="bold" fill="#444">600</text>
<text transform="translate(630.6,901) scale(1.3341,1)" x="-0.77" y="0" font-family="Liberation Serif" font-size="13.5" font-weight="bold" fill="#444">700</text>
<text x="346.7" y="918.5" font-family="Liberation Serif" font-size="18" font-weight="bold" fill="#000" text-anchor="start" textLength="88.8" lengthAdjust="spacingAndGlyphs">Temp(°C)</text>
<text transform="translate(16.3,751.5) rotate(-90)" x="0" y="0" font-family="Liberation Serif" font-size="17.2" font-weight="bold" fill="#000" textLength="124.2" lengthAdjust="spacingAndGlyphs">Resistivity(Ω·m)</text>
<text x="316" y="963.6" font-family="Liberation Serif" font-size="23" font-weight="normal" fill="#222" text-anchor="start" textLength="59" lengthAdjust="spacingAndGlyphs">(1) R8</text>
<rect x="119.1" y="855.1" width="9.8" height="8.2" rx="3" fill="#0000ff"/>
<rect x="121" y="857.4" width="3" height="2" fill="#9a9aff"/>
<rect x="122.6" y="855.1" width="9.8" height="8.2" rx="3" fill="#0000ff"/>
<rect x="124.5" y="857.4" width="3" height="2" fill="#9a9aff"/>
<rect x="126.1" y="855.1" width="9.8" height="8.2" rx="3" fill="#0000ff"/>
<rect x="128" y="857.4" width="3" height="2" fill="#9a9aff"/>
<rect x="129.6" y="855.1" width="9.8" height="8.2" rx="3" fill="#0000ff"/>
<rect x="131.5" y="857.4" width="3" height="2" fill="#9a9aff"/>
<rect x="133.1" y="855.1" width="9.8" height="8.2" rx="3" fill="#0000ff"/>
<rect x="135" y="857.4" width="3" height="2" fill="#9a9aff"/>
<rect x="136.6" y="855.1" width="9.8" height="8.2" rx="3" fill="#0000ff"/>
<rect x="138.5" y="857.4" width="3" height="2" fill="#9a9aff"/>
<rect x="140.1" y="855.1" width="9.8" height="8.2" rx="3" fill="#0000ff"/>
<rect x="142" y="857.4" width="3" height="2" fill="#9a9aff"/>
<rect x="143.6" y="855.1" width="9.8" height="8.2" rx="3" fill="#0000ff"/>
<rect x="145.5" y="857.4" width="3" height="2" fill="#9a9aff"/>
<rect x="147.1" y="855.1" width="9.8" height="8.2" rx="3" fill="#0000ff"/>
<rect x="149" y="857.4" width="3" height="2" fill="#9a9aff"/>
<rect x="150.6" y="855.1" width="9.8" height="8.2" rx="3" fill="#0000ff"/>
<rect x="152.5" y="857.4" width="3" height="2" fill="#9a9aff"/>
<rect x="154.1" y="855.1" width="9.8" height="8.2" rx="3" fill="#0000ff"/>
<rect x="156" y="857.4" width="3" height="2" fill="#9a9aff"/>
<rect x="157.6" y="855.1" width="9.8" height="8.2" rx="3" fill="#0000ff"/>
<rect x="159.5" y="857.4" width="3" height="2" fill="#9a9aff"/>
<rect x="161.1" y="855.1" width="9.8" height="8.2" rx="3" fill="#0000ff"/>
<rect x="163" y="857.4" width="3" height="2" fill="#9a9aff"/>
<rect x="164.6" y="855.1" width="9.8" height="8.2" rx="3" fill="#0000ff"/>
<rect x="166.5" y="857.4" width="3" height="2" fill="#9a9aff"/>
<rect x="168.1" y="855.1" width="9.8" height="8.2" rx="3" fill="#0000ff"/>
<rect x="170" y="857.4" width="3" height="2" fill="#9a9aff"/>
<rect x="171.6" y="855.1" width="9.8" height="8.2" rx="3" fill="#0000ff"/>
<rect x="173.5" y="857.4" width="3" height="2" fill="#9a9aff"/>
<rect x="175.1" y="855.1" width="9.8" height="8.2" rx="3" fill="#0000ff"/>
<rect x="177" y="857.4" width="3" height="2" fill="#9a9aff"/>
<rect x="178.6" y="855.1" width="9.8" height="8.2" rx="3" fill="#0000ff"/>
<rect x="180.5" y="857.4" width="3" height="2" fill="#9a9aff"/>
<rect x="182.1" y="855.1" width="9.8" height="8.2" rx="3" fill="#0000ff"/>
<rect x="184" y="857.4" width="3" height="2" fill="#9a9aff"/>
<rect x="185.6" y="855.1" width="9.8" height="8.2" rx="3" fill="#0000ff"/>
<rect x="187.5" y="857.4" width="3" height="2" fill="#9a9aff"/>
<rect x="189.1" y="855.1" width="9.8" height="8.2" rx="3" fill="#0000ff"/>
<rect x="191" y="857.4" width="3" height="2" fill="#9a9aff"/>
<rect x="192.6" y="855.1" width="9.8" height="8.2" rx="3" fill="#0000ff"/>
<rect x="194.5" y="857.4" width="3" height="2" fill="#9a9aff"/>
<rect x="198.6" y="857.1" width="9.8" height="8.2" rx="3" fill="#0000ff"/>
<rect x="200.5" y="859.4" width="3" height="2" fill="#9a9aff"/>
<rect x="202.1" y="857.1" width="9.8" height="8.2" rx="3" fill="#0000ff"/>
<rect x="204" y="859.4" width="3" height="2" fill="#9a9aff"/>
<rect x="205.6" y="857.1" width="9.8" height="8.2" rx="3" fill="#0000ff"/>
<rect x="207.5" y="859.4" width="3" height="2" fill="#9a9aff"/>
<rect x="209.1" y="857.1" width="9.8" height="8.2" rx="3" fill="#0000ff"/>
<rect x="211" y="859.4" width="3" height="2" fill="#9a9aff"/>
<rect x="212.6" y="857.1" width="9.8" height="8.2" rx="3" fill="#0000ff"/>
<rect x="214.5" y="859.4" width="3" height="2" fill="#9a9aff"/>
<rect x="216.1" y="857.1" width="9.8" height="8.2" rx="3" fill="#0000ff"/>
<rect x="218" y="859.4" width="3" height="2" fill="#9a9aff"/>
<rect x="219.6" y="857.1" width="9.8" height="8.2" rx="3" fill="#0000ff"/>
<rect x="221.5" y="859.4" width="3" height="2" fill="#9a9aff"/>
<rect x="223.1" y="857.1" width="9.8" height="8.2" rx="3" fill="#0000ff"/>
<rect x="225" y="859.4" width="3" height="2" fill="#9a9aff"/>
<rect x="226.6" y="857.1" width="9.8" height="8.2" rx="3" fill="#0000ff"/>
<rect x="228.5" y="859.4" width="3" height="2" fill="#9a9aff"/>
<rect x="230.1" y="857.1" width="9.8" height="8.2" rx="3" fill="#0000ff"/>
<rect x="232" y="859.4" width="3" height="2" fill="#9a9aff"/>
<rect x="233.6" y="857.1" width="9.8" height="8.2" rx="3" fill="#0000ff"/>
<rect x="235.5" y="859.4" width="3" height="2" fill="#9a9aff"/>
<rect x="237.1" y="857.1" width="9.8" height="8.2" rx="3" fill="#0000ff"/>
<rect x="239" y="859.4" width="3" height="2" fill="#9a9aff"/>
<rect x="240.6" y="857.1" width="9.8" height="8.2" rx="3" fill="#0000ff"/>
<rect x="242.5" y="859.4" width="3" height="2" fill="#9a9aff"/>
<rect x="244.1" y="857.1" width="9.8" height="8.2" rx="3" fill="#0000ff"/>
<rect x="246" y="859.4" width="3" height="2" fill="#9a9aff"/>
<rect x="247.6" y="857.1" width="9.8" height="8.2" rx="3" fill="#0000ff"/>
<rect x="249.5" y="859.4" width="3" height="2" fill="#9a9aff"/>
<rect x="251.1" y="857.1" width="9.8" height="8.2" rx="3" fill="#0000ff"/>
<rect x="253" y="859.4" width="3" height="2" fill="#9a9aff"/>
<rect x="246.8" y="855.6" width="9.8" height="8.2" rx="3" fill="#0000ff"/>
<rect x="248.7" y="857.9" width="3" height="2" fill="#9a9aff"/>
<rect x="257" y="854.1" width="9.8" height="8.2" rx="3" fill="#0000ff"/>
<rect x="258.9" y="856.4" width="3" height="2" fill="#9a9aff"/>
<rect x="264.3" y="852.7" width="9.8" height="8.2" rx="3" fill="#0000ff"/>
<rect x="266.2" y="855" width="3" height="2" fill="#9a9aff"/>
<rect x="271.6" y="849.8" width="9.8" height="8.2" rx="3" fill="#0000ff"/>
<rect x="273.5" y="852.1" width="3" height="2" fill="#9a9aff"/>
<rect x="277.4" y="846.1" width="9.8" height="8.2" rx="3" fill="#0000ff"/>
<rect x="279.3" y="848.4" width="3" height="2" fill="#9a9aff"/>
<rect x="282.5" y="841.7" width="9.8" height="8.2" rx="3" fill="#0000ff"/>
<rect x="284.4" y="844" width="3" height="2" fill="#9a9aff"/>
<rect x="287.4" y="836.3" width="9.8" height="8.2" rx="3" fill="#0000ff"/>
<rect x="289.3" y="838.6" width="3" height="2" fill="#9a9aff"/>
<rect x="292" y="826.4" width="9.8" height="8.2" rx="3" fill="#0000ff"/>
<rect x="293.9" y="828.7" width="3" height="2" fill="#9a9aff"/>
<rect x="297.6" y="811.1" width="9.8" height="8.2" rx="3" fill="#0000ff"/>
<rect x="299.5" y="813.4" width="3" height="2" fill="#9a9aff"/>
<rect x="301.5" y="789.6" width="9.8" height="8.2" rx="3" fill="#0000ff"/>
<rect x="303.4" y="791.9" width="3" height="2" fill="#9a9aff"/>
<rect x="306.9" y="760" width="9.8" height="8.2" rx="3" fill="#0000ff"/>
<rect x="308.8" y="762.3" width="3" height="2" fill="#9a9aff"/>
<rect x="311.7" y="721.5" width="9.8" height="8.2" rx="3" fill="#0000ff"/>
<rect x="313.6" y="723.8" width="3" height="2" fill="#9a9aff"/>
<rect x="316.5" y="675.4" width="9.8" height="8.2" rx="3" fill="#0000ff"/>
<rect x="318.4" y="677.7" width="3" height="2" fill="#9a9aff"/>
<rect x="321" y="623.8" width="9.8" height="8.2" rx="3" fill="#0000ff"/>
<rect x="322.9" y="626.1" width="3" height="2" fill="#9a9aff"/>
<rect x="326.3" y="575.1" width="9.8" height="8.2" rx="3" fill="#0000ff"/>
<rect x="328.2" y="577.4" width="3" height="2" fill="#9a9aff"/>
<rect x="331.9" y="532.5" width="9.8" height="8.2" rx="3" fill="#0000ff"/>
<rect x="333.8" y="534.8" width="3" height="2" fill="#9a9aff"/>
<rect x="341.5" y="585.6" width="9.8" height="8.2" rx="3" fill="#0000ff"/>
<rect x="343.4" y="587.9" width="3" height="2" fill="#9a9aff"/>
<rect x="351.1" y="635.5" width="9.8" height="8.2" rx="3" fill="#0000ff"/>
<rect x="353" y="637.8" width="3" height="2" fill="#9a9aff"/>
<rect x="360.8" y="685.1" width="9.8" height="8.2" rx="3" fill="#0000ff"/>
<rect x="362.7" y="687.4" width="3" height="2" fill="#9a9aff"/>
<rect x="371.2" y="726.8" width="9.8" height="8.2" rx="3" fill="#0000ff"/>
<rect x="373.1" y="729.1" width="3" height="2" fill="#9a9aff"/>
<rect x="380.5" y="761.8" width="9.8" height="8.2" rx="3" fill="#0000ff"/>
<rect x="382.4" y="764.1" width="3" height="2" fill="#9a9aff"/>
<rect x="390.1" y="788.1" width="9.8" height="8.2" rx="3" fill="#0000ff"/>
<rect x="392" y="790.4" width="3" height="2" fill="#9a9aff"/>
<rect x="400.4" y="808.6" width="9.8" height="8.2" rx="3" fill="#0000ff"/>
<rect x="402.3" y="810.9" width="3" height="2" fill="#9a9aff"/>
<rect x="413.1" y="826.4" width="9.8" height="8.2" rx="3" fill="#0000ff"/>
<rect x="415" y="828.7" width="3" height="2" fill="#9a9aff"/>
<rect x="427.8" y="840.3" width="9.8" height="8.2" rx="3" fill="#0000ff"/>
<rect x="429.7" y="842.6" width="3" height="2" fill="#9a9aff"/>
<rect x="443" y="846.1" width="9.8" height="8.2" rx="3" fill="#0000ff"/>
<rect x="444.9" y="848.4" width="3" height="2" fill="#9a9aff"/>
<rect x="457" y="852" width="9.8" height="8.2" rx="3" fill="#0000ff"/>
<rect x="458.9" y="854.3" width="3" height="2" fill="#9a9aff"/>
<rect x="472.2" y="856.2" width="9.8" height="8.2" rx="3" fill="#0000ff"/>
<rect x="474.1" y="858.5" width="3" height="2" fill="#9a9aff"/>
<rect x="488.1" y="857.8" width="9.8" height="8.2" rx="3" fill="#0000ff"/>
<rect x="490" y="860.1" width="3" height="2" fill="#9a9aff"/>
<rect x="503.7" y="858.5" width="9.8" height="8.2" rx="3" fill="#0000ff"/>
<rect x="505.6" y="860.8" width="3" height="2" fill="#9a9aff"/>
<rect x="517.8" y="858.5" width="9.8" height="8.2" rx="3" fill="#0000ff"/>
<rect x="519.7" y="860.8" width="3" height="2" fill="#9a9aff"/>
<rect x="532.1" y="858.7" width="9.8" height="8.2" rx="3" fill="#0000ff"/>
<rect x="534" y="861" width="3" height="2" fill="#9a9aff"/>
<rect x="547" y="858.7" width="9.8" height="8.2" rx="3" fill="#0000ff"/>
<rect x="548.9" y="861" width="3" height="2" fill="#9a9aff"/>
<rect x="562.1" y="858.9" width="9.8" height="8.2" rx="3" fill="#0000ff"/>
<rect x="564" y="861.2" width="3" height="2" fill="#9a9aff"/>
<rect x="577.3" y="858.9" width="9.8" height="8.2" rx="3" fill="#0000ff"/>
<rect x="579.2" y="861.2" width="3" height="2" fill="#9a9aff"/>
<rect x="592.5" y="858.9" width="9.8" height="8.2" rx="3" fill="#0000ff"/>
<rect x="594.4" y="861.2" width="3" height="2" fill="#9a9aff"/>
<rect x="608.9" y="858.9" width="9.8" height="8.2" rx="3" fill="#0000ff"/>
<rect x="610.8" y="861.2" width="3" height="2" fill="#9a9aff"/>
<rect x="624.1" y="858.9" width="9.8" height="8.2" rx="3" fill="#0000ff"/>
<rect x="626" y="861.2" width="3" height="2" fill="#9a9aff"/>
<rect x="638.1" y="858.9" width="9.8" height="8.2" rx="3" fill="#0000ff"/>
<rect x="640" y="861.2" width="3" height="2" fill="#9a9aff"/>
<polyline points="124.5,866.57 125.5,866.53 126.5,866.5 127.5,866.46 128.5,866.43 129.5,866.39 130.5,866.35 131.5,866.32 132.5,866.28 133.5,866.24 134.5,866.2 135.5,866.16 136.5,866.12 137.5,866.08 138.5,866.04 139.5,866 140.5,865.96 141.5,865.91 142.5,865.87 143.5,865.83 144.5,865.78 145.5,865.74 146.5,865.69 147.5,865.64 148.5,865.6 149.5,865.55 150.5,865.5 151.5,865.45 152.5,865.4 153.5,865.35 154.5,865.29 155.5,865.24 156.5,865.19 157.5,865.13 158.5,865.08 159.5,865.02 160.5,864.96 161.5,864.9 162.5,864.85 163.5,864.78 164.5,864.72 165.5,864.66 166.5,864.6 167.5,864.53 168.5,864.47 169.5,864.4 170.5,864.33 171.5,864.26 172.5,864.19 173.5,864.12 174.5,864.05 175.5,863.98 176.5,863.9 177.5,863.82 178.5,863.75 179.5,863.67 180.5,863.59 181.5,863.5 182.5,863.42 183.5,863.33 184.5,863.25 185.5,863.16 186.5,863.07 187.5,862.98 188.5,862.88 189.5,862.79 190.5,862.69 191.5,862.59 192.5,862.49 193.5,862.39 194.5,862.28 195.5,862.18 196.5,862.07 197.5,861.95 198.5,861.84 199.5,861.73 200.5,861.61 201.5,861.49 202.5,861.36 203.5,861.24 204.5,861.11 205.5,860.98 206.5,860.84 207.5,860.71 208.5,860.56 209.5,860.42 210.5,860.28 211.5,860.13 212.5,859.97 213.5,859.82 214.5,859.66 215.5,859.49 216.5,859.33 217.5,859.16 218.5,858.98 219.5,858.8 220.5,858.62 221.5,858.43 222.5,858.24 223.5,858.04 224.5,857.84 225.5,857.63 226.5,857.42 227.5,857.21 228.5,856.98 229.5,856.75 230.5,856.52 231.5,856.28 232.5,856.04 233.5,855.78 234.5,855.52 235.5,855.26 236.5,854.98 237.5,854.7 238.5,854.42 239.5,854.12 240.5,853.82 241.5,853.5 242.5,853.18 243.5,852.85 244.5,852.51 245.5,852.16 246.5,851.8 247.5,851.43 248.5,851.05 249.5,850.66 250.5,850.25 251.5,849.83 252.5,849.4 253.5,848.96 254.5,848.5 255.5,848.03 256.5,847.54 257.5,847.04 258.5,846.52 259.5,845.98 260.5,845.43 261.5,844.85 262.5,844.26 263.5,843.65 264.5,843.01 265.5,842.36 266.5,841.68 267.5,840.97 268.5,840.24 269.5,839.49 270.5,838.7 271.5,837.89 272.5,837.05 273.5,836.17 274.5,835.26 275.5,834.32 276.5,833.34 277.5,832.32 278.5,831.26 279.5,830.15 280.5,829 281.5,827.81 282.5,826.56 283.5,825.26 284.5,823.9 285.5,822.49 286.5,821.01 287.5,819.47 288.5,817.86 289.5,816.18 290.5,814.42 291.5,812.58 292.5,810.66 293.5,808.64 294.5,806.53 295.5,804.32 296.5,802 297.5,799.57 298.5,797.02 299.5,794.34 300.5,791.53 301.5,788.57 302.5,785.47 303.5,782.21 304.5,778.78 305.5,775.18 306.5,771.38 307.5,767.4 308.5,763.2 309.5,758.79 310.5,754.15 311.5,749.27 312.5,744.14 313.5,738.75 314.5,733.08 315.5,727.14 316.5,720.91 317.5,714.39 318.5,707.56 319.5,700.43 320.5,693 321.5,685.28 322.5,677.26 323.5,668.97 324.5,660.44 325.5,651.68 326.5,642.74 327.5,633.66 328.5,624.5 329.5,615.33 330.5,606.24 331.5,597.3 332.5,588.63 333.5,580.32 334.5,572.51 335.5,565.3 336.5,558.83 337.5,553.2 338.5,548.52 339.5,544.88 340.5,542.37 341.5,541.04 342.5,540.9 343.5,541.98 344.5,544.23 345.5,547.63 346.5,552.08 347.5,557.51 348.5,563.81 349.5,570.87 350.5,578.56 351.5,586.76 352.5,595.36 353.5,604.25 354.5,613.32 355.5,622.48 356.5,631.65 357.5,640.75 358.5,649.73 359.5,658.53 360.5,667.12 361.5,675.46 362.5,683.54 363.5,691.33 364.5,698.82 365.5,706.02 366.5,712.91 367.5,719.5 368.5,725.8 369.5,731.8 370.5,737.52 371.5,742.97 372.5,748.16 373.5,753.1 374.5,757.79 375.5,762.25 376.5,766.49 377.5,770.52 378.5,774.36 379.5,778 380.5,781.47 381.5,784.77 382.5,787.9 383.5,790.89 384.5,793.73 385.5,796.44 386.5,799.02 387.5,801.48 388.5,803.82 389.5,806.05 390.5,808.19 391.5,810.22 392.5,812.17 393.5,814.03 394.5,815.8 395.5,817.5 396.5,819.13 397.5,820.68 398.5,822.17 399.5,823.6 400.5,824.97 401.5,826.28 402.5,827.54 403.5,828.74 404.5,829.9 405.5,831.02 406.5,832.09 407.5,833.12 408.5,834.11 409.5,835.06 410.5,835.98 411.5,836.86 412.5,837.71 413.5,838.53 414.5,839.32 415.5,840.08 416.5,840.82 417.5,841.52 418.5,842.21 419.5,842.87 420.5,843.51 421.5,844.13 422.5,844.72 423.5,845.3 424.5,845.86 425.5,846.4 426.5,846.92 427.5,847.43 428.5,847.92 429.5,848.4 430.5,848.86 431.5,849.31 432.5,849.74 433.5,850.16 434.5,850.57 435.5,850.96 436.5,851.35 437.5,851.72 438.5,852.08 439.5,852.43 440.5,852.78 441.5,853.11 442.5,853.43 443.5,853.75 444.5,854.05 445.5,854.35 446.5,854.64 447.5,854.92 448.5,855.2 449.5,855.47 450.5,855.73 451.5,855.98 452.5,856.23 453.5,856.47 454.5,856.7 455.5,856.93 456.5,857.16 457.5,857.37 458.5,857.59 459.5,857.8 460.5,858 461.5,858.2 462.5,858.39 463.5,858.58 464.5,858.76 465.5,858.94 466.5,859.12 467.5,859.29 468.5,859.46 469.5,859.62 470.5,859.78 471.5,859.94 472.5,860.09 473.5,860.24 474.5,860.39 475.5,860.53 476.5,860.67 477.5,860.81 478.5,860.95 479.5,861.08 480.5,861.21 481.5,861.33 482.5,861.46 483.5,861.58 484.5,861.7 485.5,861.82 486.5,861.93 487.5,862.04 488.5,862.15 489.5,862.26 490.5,862.37 491.5,862.47 492.5,862.57 493.5,862.67 494.5,862.77 495.5,862.86 496.5,862.96 497.5,863.05 498.5,863.14 499.5,863.23 500.5,863.32 501.5,863.4 502.5,863.49 503.5,863.57 504.5,863.65 505.5,863.73 506.5,863.81 507.5,863.88 508.5,863.96 509.5,864.03 510.5,864.11 511.5,864.18 512.5,864.25 513.5,864.32 514.5,864.39 515.5,864.45 516.5,864.52 517.5,864.58 518.5,864.65 519.5,864.71 520.5,864.77 521.5,864.83 522.5,864.89 523.5,864.95 524.5,865.01 525.5,865.06 526.5,865.12 527.5,865.18 528.5,865.23 529.5,865.28 530.5,865.34 531.5,865.39 532.5,865.44 533.5,865.49 534.5,865.54 535.5,865.59 536.5,865.63 537.5,865.68 538.5,865.73 539.5,865.77 540.5,865.82 541.5,865.86 542.5,865.91 543.5,865.95 544.5,865.99 545.5,866.03 546.5,866.07 547.5,866.11 548.5,866.15 549.5,866.19 550.5,866.23 551.5,866.27 552.5,866.31 553.5,866.35 554.5,866.38 555.5,866.42 556.5,866.46 557.5,866.49 558.5,866.53 559.5,866.56 560.5,866.59 561.5,866.63 562.5,866.66 563.5,866.69 564.5,866.72 565.5,866.76 566.5,866.79 567.5,866.82 568.5,866.85 569.5,866.88 570.5,866.91 571.5,866.94 572.5,866.97 573.5,867 574.5,867.02 575.5,867.05 576.5,867.08 577.5,867.11 578.5,867.13 579.5,867.16 580.5,867.19 581.5,867.21 582.5,867.24 583.5,867.26 584.5,867.29 585.5,867.31 586.5,867.34 587.5,867.36 588.5,867.38 589.5,867.41 590.5,867.43 591.5,867.45 592.5,867.48 593.5,867.5 594.5,867.52 595.5,867.54 596.5,867.56 597.5,867.58 598.5,867.61 599.5,867.63 600.5,867.65 601.5,867.67 602.5,867.69 603.5,867.71 604.5,867.73 605.5,867.75 606.5,867.77 607.5,867.78 608.5,867.8 609.5,867.82 610.5,867.84 611.5,867.86 612.5,867.88 613.5,867.89 614.5,867.91 615.5,867.93 616.5,867.95 617.5,867.96 618.5,867.98 619.5,868 620.5,868.01 621.5,868.03 622.5,868.05 623.5,868.06 624.5,868.08 625.5,868.09 626.5,868.11 627.5,868.12 628.5,868.14 629.5,868.15 630.5,868.17 631.5,868.18 632.5,868.2 633.5,868.21 634.5,868.23 635.5,868.24 636.5,868.25 637.5,868.27 638.5,868.28 639.5,868.3 640.5,868.31 641.5,868.32 642.5,868.34" fill="none" stroke="#ff0000" stroke-width="2"/>
<rect x="458.4" y="504.6" width="195.8" height="43.4" fill="#fff" stroke="#000" stroke-width="2"/>
<rect x="478.3" y="512.2" width="9.8" height="8.2" rx="3" fill="#0000ff"/>
<rect x="480.2" y="514.5" width="3" height="2" fill="#9a9aff"/>
<rect x="461.3" y="534.8" width="43.8" height="2" fill="#ff0000"/>
<text x="510.4" y="520" font-family="Liberation Serif" font-size="17.5" font-weight="bold" fill="#000" text-anchor="start" textLength="140.6" lengthAdjust="spacingAndGlyphs">Resistivity(Ω·m)</text>
<text x="510.4" y="541" font-family="Liberation Serif" font-size="17.5" font-weight="bold" fill="#000" text-anchor="start" textLength="90.5" lengthAdjust="spacingAndGlyphs">Fit a curve</text>
<rect x="376.1" y="552.7" width="301.2" height="162.2" fill="#fff"/>
<rect x="375.1" y="551.7" width="303.2" height="2" fill="#000"/>
<rect x="375.1" y="568.3" width="303.2" height="2" fill="#000"/>
<rect x="375.1" y="595.4" width="303.2" height="2" fill="#000"/>
<rect x="375.1" y="610" width="303.2" height="2" fill="#000"/>
<rect x="375.1" y="625.2" width="303.2" height="2" fill="#000"/>
<rect x="375.1" y="639.9" width="303.2" height="2" fill="#000"/>
<rect x="375.1" y="654.6" width="303.2" height="2" fill="#000"/>
<rect x="375.1" y="669.6" width="303.2" height="2" fill="#000"/>
<rect x="375.1" y="684.4" width="303.2" height="2" fill="#000"/>
<rect x="375.1" y="699.3" width="303.2" height="2" fill="#000"/>
<rect x="375.1" y="713.9" width="303.2" height="2" fill="#000"/>
<rect x="375.1" y="551.7" width="2" height="164.2" fill="#000"/>
<rect x="484.7" y="551.7" width="2" height="164.2" fill="#000"/>
<rect x="676.3" y="551.7" width="2" height="164.2" fill="#000"/>
<text x="379.1" y="564.47" font-family="Liberation Mono" font-size="10.5" font-weight="normal" fill="#909090" text-anchor="start" textLength="34.15" lengthAdjust="spacingAndGlyphs">Model</text>
<text x="581.5" y="562.97" font-family="Liberation Mono" font-size="10.5" font-weight="normal" fill="#909090" text-anchor="middle" textLength="49.7" lengthAdjust="spacingAndGlyphs">Lorentz</text>
<text x="379.1" y="586.31" font-family="Liberation Mono" font-size="10.5" font-weight="normal" fill="#909090" text-anchor="start" textLength="54.64" lengthAdjust="spacingAndGlyphs">Equation</text>
<text x="581.5" y="578.51" font-family="Liberation Mono" font-size="10.5" font-weight="normal" fill="#909090" text-anchor="middle" textLength="183.6" lengthAdjust="spacingAndGlyphs">y = y0 + (2*A/pi)*(w/(4*(x-</text>
<text x="581.5" y="591.11" font-family="Liberation Mono" font-size="10.5" font-weight="normal" fill="#909090" text-anchor="middle" textLength="92.3" lengthAdjust="spacingAndGlyphs">xc)^2 + w^2))</text>
<text x="379.1" y="607.17" font-family="Liberation Mono" font-size="10.5" font-weight="normal" fill="#909090" text-anchor="start" textLength="27.32" lengthAdjust="spacingAndGlyphs">Plot</text>
<text x="581.5" y="605.67" font-family="Liberation Mono" font-size="10.5" font-weight="normal" fill="#909090" text-anchor="middle" textLength="7.1" lengthAdjust="spacingAndGlyphs">0</text>
<text x="379.1" y="622.07" font-family="Liberation Mono" font-size="10.5" font-weight="normal" fill="#909090" text-anchor="start" textLength="13.66" lengthAdjust="spacingAndGlyphs">y0</text>
<text x="581.5" y="620.57" font-family="Liberation Mono" font-size="10.5" font-weight="normal" fill="#909090" text-anchor="middle" textLength="183.6" lengthAdjust="spacingAndGlyphs">-106416.73723 ± 4270.65783</text>
<text x="379.1" y="637.01" font-family="Liberation Mono" font-size="10.5" font-weight="normal" fill="#909090" text-anchor="start" textLength="13.66" lengthAdjust="spacingAndGlyphs">xc</text>
<text x="581.5" y="635.51" font-family="Liberation Mono" font-size="10.5" font-weight="normal" fill="#909090" text-anchor="middle" textLength="134.9" lengthAdjust="spacingAndGlyphs">310.69772 ± 0.09499</text>
<text x="379.1" y="651.72" font-family="Liberation Mono" font-size="10.5" font-weight="normal" fill="#909090" text-anchor="start" textLength="6.83" lengthAdjust="spacingAndGlyphs">w</text>
<text x="581.5" y="650.22" font-family="Liberation Mono" font-size="10.5" font-weight="normal" fill="#909090" text-anchor="middle" textLength="127.8" lengthAdjust="spacingAndGlyphs">58.20619 ± 0.31923</text>
<text x="379.1" y="666.57" font-family="Liberation Mono" font-size="10.5" font-weight="normal" fill="#909090" text-anchor="start" textLength="6.83" lengthAdjust="spacingAndGlyphs">A</text>
<text x="581.5" y="665.07" font-family="Liberation Mono" font-size="10.5" font-weight="normal" fill="#909090" text-anchor="middle" textLength="177.5" lengthAdjust="spacingAndGlyphs">4.64197E8 ± 2015310.29123</text>
<text x="379.1" y="681.47" font-family="Liberation Mono" font-size="10.5" font-weight="normal" fill="#909090" text-anchor="start" textLength="102.45" lengthAdjust="spacingAndGlyphs">Reduced Chi-Sqr</text>
<text x="581.5" y="679.97" font-family="Liberation Mono" font-size="10.5" font-weight="normal" fill="#909090" text-anchor="middle" textLength="71" lengthAdjust="spacingAndGlyphs">4.37749E10</text>
<text x="379.1" y="696.31" font-family="Liberation Mono" font-size="10.5" font-weight="normal" fill="#909090" text-anchor="start" textLength="95.62" lengthAdjust="spacingAndGlyphs">R-Square (COD)</text>
<text x="581.5" y="694.81" font-family="Liberation Mono" font-size="10.5" font-weight="normal" fill="#909090" text-anchor="middle" textLength="49.7" lengthAdjust="spacingAndGlyphs">0.96802</text>
<text x="379.1" y="711.06" font-family="Liberation Mono" font-size="10.5" font-weight="normal" fill="#909090" text-anchor="start" textLength="88.79" lengthAdjust="spacingAndGlyphs">Adj. R-Square</text>
<text x="581.5" y="709.56" font-family="Liberation Mono" font-size="10.5" font-weight="normal" fill="#909090" text-anchor="middle" textLength="42.6" lengthAdjust="spacingAndGlyphs">0.9618</text>
<rect x="99.3" y="978.9" width="583.6" height="2" fill="#000"/>
<rect x="682.9" y="980.9" width="2" height="366.4" fill="#000"/>
<rect x="100.8" y="978.9" width="2" height="374.4" fill="#000"/>
<rect x="100.8" y="1345.3" width="584.1" height="2" fill="#000"/>
<rect x="93.8" y="1327.1" width="8" height="2" fill="#000"/>
<rect x="97.8" y="1288.35" width="4" height="2" fill="#000"/>
<rect x="93.8" y="1249.6" width="8" height="2" fill="#000"/>
<rect x="97.8" y="1210.85" width="4" height="2" fill="#000"/>
<rect x="93.8" y="1172.1" width="8" height="2" fill="#000"/>
<rect x="97.8" y="1133.35" width="4" height="2" fill="#000"/>
<rect x="93.8" y="1094.6" width="8" height="2" fill="#000"/>
<rect x="97.8" y="1055.85" width="4" height="2" fill="#000"/>
<rect x="93.8" y="1017.1" width="8" height="2" fill="#000"/>
<rect x="139.47" y="1346.3" width="2" height="3" fill="#000"/>
<rect x="178.15" y="1346.3" width="2" height="6" fill="#000"/>
<rect x="216.82" y="1346.3" width="2" height="3" fill="#000"/>
<rect x="255.5" y="1346.3" width="2" height="6" fill="#000"/>
<rect x="294.18" y="1346.3" width="2" height="3" fill="#000"/>
<rect x="332.85" y="1346.3" width="2" height="6" fill="#000"/>
<rect x="371.52" y="1346.3" width="2" height="3" fill="#000"/>
<rect x="410.2" y="1346.3" width="2" height="6" fill="#000"/>
<rect x="448.88" y="1346.3" width="2" height="3" fill="#000"/>
<rect x="487.55" y="1346.3" width="2" height="6" fill="#000"/>
<rect x="526.22" y="1346.3" width="2" height="3" fill="#000"/>
<rect x="564.9" y="1346.3" width="2" height="6" fill="#000"/>
<rect x="603.57" y="1346.3" width="2" height="3" fill="#000"/>
<rect x="642.25" y="1346.3" width="2" height="6" fill="#000"/>
<rect x="680.92" y="1346.3" width="2" height="3" fill="#000"/>
<text transform="translate(20.2,1255.2) scale(1.2223,1)" x="-1.12" y="0" font-family="Liberation Serif" font-size="14" font-weight="bold" fill="#444">1</text>
<text transform="translate(29,1255.2) scale(1.5422,1)" x="-0.62" y="0" font-family="Liberation Serif" font-size="14" font-weight="bold" fill="#444">.</text>
<text transform="translate(37.6,1255.2) scale(1.0449,1)" x="-0.53" y="0" font-family="Liberation Serif" font-size="14" font-weight="bold" fill="#444">0</text>
<path d="M47.2,1246.6L59,1254.6M47.2,1254.6L59,1246.6" stroke="#666" stroke-width="1.3" fill="none"/>
<text transform="translate(65.8,1255.2) scale(1.1664,1)" x="-1.12" y="0" font-family="Liberation Serif" font-size="14" font-weight="bold" fill="#444">10</text>
<text transform="translate(81.4,1250) scale(1.5119,1)" x="-0.34" y="0" font-family="Liberation Serif" font-size="10" font-weight="bold" fill="#aaa">6</text>
<text transform="translate(20.2,1177.7) scale(1.0842,1)" x="-0.59" y="0" font-family="Liberation Serif" font-size="14" font-weight="bold" fill="#444">2</text>
<text transform="translate(29,1177.7) scale(1.5422,1)" x="-0.62" y="0" font-family="Liberation Serif" font-size="14" font-weight="bold" fill="#444">.</text>
<text transform="translate(37.6,1177.7) scale(1.0449,1)" x="-0.53" y="0" font-family="Liberation Serif" font-size="14" font-weight="bold" fill="#444">0</text>
<path d="M47.2,1169.1L59,1177.1M47.2,1177.1L59,1169.1" stroke="#666" stroke-width="1.3" fill="none"/>
<text transform="translate(65.8,1177.7) scale(1.1664,1)" x="-1.12" y="0" font-family="Liberation Serif" font-size="14" font-weight="bold" fill="#444">10</text>
<text transform="translate(81.4,1172.5) scale(1.5119,1)" x="-0.34" y="0" font-family="Liberation Serif" font-size="10" font-weight="bold" fill="#aaa">6</text>
<text transform="translate(20.2,1100.2) scale(1.0509,1)" x="-0.53" y="0" font-family="Liberation Serif" font-size="14" font-weight="bold" fill="#444">3</text>
<text transform="translate(29,1100.2) scale(1.5422,1)" x="-0.62" y="0" font-family="Liberation Serif" font-size="14" font-weight="bold" fill="#444">.</text>
<text transform="translate(37.6,1100.2) scale(1.0449,1)" x="-0.53" y="0" font-family="Liberation Serif" font-size="14" font-weight="bold" fill="#444">0</text>
<path d="M47.2,1091.6L59,1099.6M47.2,1099.6L59,1091.6" stroke="#666" stroke-width="1.3" fill="none"/>
<text transform="translate(65.8,1100.2) scale(1.1664,1)" x="-1.12" y="0" font-family="Liberation Serif" font-size="14" font-weight="bold" fill="#444">10</text>
<text transform="translate(81.4,1095) scale(1.5119,1)" x="-0.34" y="0" font-family="Liberation Serif" font-size="10" font-weight="bold" fill="#aaa">6</text>
<text transform="translate(20.2,1022.7) scale(0.9620,1)" x="-0.19" y="0" font-family="Liberation Serif" font-size="14" font-weight="bold" fill="#444">4</text>
<text transform="translate(29,1022.7) scale(1.5422,1)" x="-0.62" y="0" font-family="Liberation Serif" font-size="14" font-weight="bold" fill="#444">.</text>
<text transform="translate(37.6,1022.7) scale(1.0449,1)" x="-0.53" y="0" font-family="Liberation Serif" font-size="14" font-weight="bold" fill="#444">0</text>
<path d="M47.2,1014.1L59,1022.1M47.2,1022.1L59,1014.1" stroke="#666" stroke-width="1.3" fill="none"/>
<text transform="translate(65.8,1022.7) scale(1.1664,1)" x="-1.12" y="0" font-family="Liberation Serif" font-size="14" font-weight="bold" fill="#444">10</text>
<text transform="translate(81.4,1017.5) scale(1.5119,1)" x="-0.34" y="0" font-family="Liberation Serif" font-size="10" font-weight="bold" fill="#aaa">6</text>
<text transform="translate(60.4,1332.7) scale(1.2808,1)" x="-0.53" y="0" font-family="Liberation Serif" font-size="14" font-weight="bold" fill="#444">0</text>
<text transform="translate(70.5,1332.7) scale(1.3219,1)" x="-0.62" y="0" font-family="Liberation Serif" font-size="14" font-weight="bold" fill="#444">.</text>
<text transform="translate(79.3,1332.7) scale(1.2977,1)" x="-0.53" y="0" font-family="Liberation Serif" font-size="14" font-weight="bold" fill="#444">0</text>
<text transform="translate(97.9,1368) scale(1.3632,1)" x="-0.51" y="0" font-family="Liberation Serif" font-size="13.5" font-weight="bold" fill="#444">0</text>
<text transform="translate(166.5,1368) scale(1.3562,1)" x="-1.08" y="0" font-family="Liberation Serif" font-size="13.5" font-weight="bold" fill="#444">100</text>
<text transform="translate(243.85,1368) scale(1.3198,1)" x="-0.57" y="0" font-family="Liberation Serif" font-size="13.5" font-weight="bold" fill="#444">200</text>
<text transform="translate(321.2,1368) scale(1.3158,1)" x="-0.51" y="0" font-family="Liberation Serif" font-size="13.5" font-weight="bold" fill="#444">300</text>
<text transform="translate(398.55,1368) scale(1.2940,1)" x="-0.18" y="0" font-family="Liberation Serif" font-size="13.5" font-weight="bold" fill="#444">400</text>
<text transform="translate(475.9,1368) scale(1.3180,1)" x="-0.54" y="0" font-family="Liberation Serif" font-size="13.5" font-weight="bold" fill="#444">500</text>
<text transform="translate(553.25,1368) scale(1.3126,1)" x="-0.46" y="0" font-family="Liberation Serif" font-size="13.5" font-weight="bold" fill="#444">600</text>
<text transform="translate(630.6,1368) scale(1.3341,1)" x="-0.77" y="0" font-family="Liberation Serif" font-size="13.5" font-weight="bold" fill="#444">700</text>
<text x="346.7" y="1383.9" font-family="Liberation Serif" font-size="18" font-weight="bold" fill="#000" text-anchor="start" textLength="88.8" lengthAdjust="spacingAndGlyphs">Temp(°C)</text>
<text transform="translate(15.6,1223.8) rotate(-90)" x="0" y="0" font-family="Liberation Serif" font-size="17" font-weight="bold" fill="#000" textLength="120" lengthAdjust="spacingAndGlyphs">Resistivity(Ω·m)</text>
<text x="316" y="1420.6" font-family="Liberation Serif" font-size="23" font-weight="normal" fill="#222" text-anchor="start" textLength="59" lengthAdjust="spacingAndGlyphs">(1) R9</text>
<rect x="123.1" y="1152.7" width="9.8" height="8.2" rx="3" fill="#0000ff"/>
<rect x="125" y="1155" width="3" height="2" fill="#9a9aff"/>
<rect x="129.6" y="1150.9" width="9.8" height="8.2" rx="3" fill="#0000ff"/>
<rect x="131.5" y="1153.2" width="3" height="2" fill="#9a9aff"/>
<rect x="135.7" y="1096.9" width="9.8" height="8.2" rx="3" fill="#0000ff"/>
<rect x="137.6" y="1099.2" width="3" height="2" fill="#9a9aff"/>
<rect x="143.6" y="1037.4" width="9.8" height="8.2" rx="3" fill="#0000ff"/>
<rect x="145.5" y="1039.7" width="3" height="2" fill="#9a9aff"/>
<rect x="147.1" y="1013.4" width="9.8" height="8.2" rx="3" fill="#0000ff"/>
<rect x="149" y="1015.7" width="3" height="2" fill="#9a9aff"/>
<rect x="152.7" y="1017.3" width="9.8" height="8.2" rx="3" fill="#0000ff"/>
<rect x="154.6" y="1019.6" width="3" height="2" fill="#9a9aff"/>
<rect x="158.5" y="1065.9" width="9.8" height="8.2" rx="3" fill="#0000ff"/>
<rect x="160.4" y="1068.2" width="3" height="2" fill="#9a9aff"/>
<rect x="166.4" y="1137.9" width="9.8" height="8.2" rx="3" fill="#0000ff"/>
<rect x="168.3" y="1140.2" width="3" height="2" fill="#9a9aff"/>
<rect x="174.1" y="1198.4" width="9.8" height="8.2" rx="3" fill="#0000ff"/>
<rect x="176" y="1200.7" width="3" height="2" fill="#9a9aff"/>
<rect x="181.2" y="1240.6" width="9.8" height="8.2" rx="3" fill="#0000ff"/>
<rect x="183.1" y="1242.9" width="3" height="2" fill="#9a9aff"/>
<rect x="189.3" y="1266.8" width="9.8" height="8.2" rx="3" fill="#0000ff"/>
<rect x="191.2" y="1269.1" width="3" height="2" fill="#9a9aff"/>
<rect x="196.6" y="1291.9" width="9.8" height="8.2" rx="3" fill="#0000ff"/>
<rect x="198.5" y="1294.2" width="3" height="2" fill="#9a9aff"/>
<rect x="200.1" y="1293.09" width="9.8" height="8.2" rx="3" fill="#0000ff"/>
<rect x="202" y="1295.39" width="3" height="2" fill="#9a9aff"/>
<rect x="204.1" y="1294.46" width="9.8" height="8.2" rx="3" fill="#0000ff"/>
<rect x="206" y="1296.76" width="3" height="2" fill="#9a9aff"/>
<rect x="208.1" y="1295.9" width="9.8" height="8.2" rx="3" fill="#0000ff"/>
<rect x="210" y="1298.2" width="3" height="2" fill="#9a9aff"/>
<rect x="212.1" y="1297.39" width="9.8" height="8.2" rx="3" fill="#0000ff"/>
<rect x="214" y="1299.69" width="3" height="2" fill="#9a9aff"/>
<rect x="216.1" y="1298.39" width="9.8" height="8.2" rx="3" fill="#0000ff"/>
<rect x="218" y="1300.69" width="3" height="2" fill="#9a9aff"/>
<rect x="220.1" y="1299.36" width="9.8" height="8.2" rx="3" fill="#0000ff"/>
<rect x="222" y="1301.66" width="3" height="2" fill="#9a9aff"/>
<rect x="224.1" y="1300.08" width="9.8" height="8.2" rx="3" fill="#0000ff"/>
<rect x="226" y="1302.38" width="3" height="2" fill="#9a9aff"/>
<rect x="228.1" y="1300.71" width="9.8" height="8.2" rx="3" fill="#0000ff"/>
<rect x="230" y="1303.01" width="3" height="2" fill="#9a9aff"/>
<rect x="232.1" y="1301.28" width="9.8" height="8.2" rx="3" fill="#0000ff"/>
<rect x="234" y="1303.58" width="3" height="2" fill="#9a9aff"/>
<rect x="236.1" y="1301.8" width="9.8" height="8.2" rx="3" fill="#0000ff"/>
<rect x="238" y="1304.1" width="3" height="2" fill="#9a9aff"/>
<rect x="240.1" y="1301.54" width="9.8" height="8.2" rx="3" fill="#0000ff"/>
<rect x="242" y="1303.84" width="3" height="2" fill="#9a9aff"/>
<rect x="244.1" y="1301.08" width="9.8" height="8.2" rx="3" fill="#0000ff"/>
<rect x="246" y="1303.38" width="3" height="2" fill="#9a9aff"/>
<rect x="248.1" y="1300.58" width="9.8" height="8.2" rx="3" fill="#0000ff"/>
<rect x="250" y="1302.88" width="3" height="2" fill="#9a9aff"/>
<rect x="252.1" y="1300.17" width="9.8" height="8.2" rx="3" fill="#0000ff"/>
<rect x="254" y="1302.47" width="3" height="2" fill="#9a9aff"/>
<rect x="256.1" y="1301.08" width="9.8" height="8.2" rx="3" fill="#0000ff"/>
<rect x="258" y="1303.38" width="3" height="2" fill="#9a9aff"/>
<rect x="260.1" y="1302.1" width="9.8" height="8.2" rx="3" fill="#0000ff"/>
<rect x="262" y="1304.4" width="3" height="2" fill="#9a9aff"/>
<rect x="264.1" y="1304.1" width="9.8" height="8.2" rx="3" fill="#0000ff"/>
<rect x="266" y="1306.4" width="3" height="2" fill="#9a9aff"/>
<rect x="268.1" y="1306.1" width="9.8" height="8.2" rx="3" fill="#0000ff"/>
<rect x="270" y="1308.4" width="3" height="2" fill="#9a9aff"/>
<rect x="272.1" y="1308.1" width="9.8" height="8.2" rx="3" fill="#0000ff"/>
<rect x="274" y="1310.4" width="3" height="2" fill="#9a9aff"/>
<rect x="276.1" y="1310.99" width="9.8" height="8.2" rx="3" fill="#0000ff"/>
<rect x="278" y="1313.29" width="3" height="2" fill="#9a9aff"/>
<rect x="280.1" y="1314.48" width="9.8" height="8.2" rx="3" fill="#0000ff"/>
<rect x="282" y="1316.78" width="3" height="2" fill="#9a9aff"/>
<rect x="284.1" y="1316.01" width="9.8" height="8.2" rx="3" fill="#0000ff"/>
<rect x="286" y="1318.31" width="3" height="2" fill="#9a9aff"/>
<rect x="288.1" y="1317.09" width="9.8" height="8.2" rx="3" fill="#0000ff"/>
<rect x="290" y="1319.39" width="3" height="2" fill="#9a9aff"/>
<rect x="292.1" y="1317.84" width="9.8" height="8.2" rx="3" fill="#0000ff"/>
<rect x="294" y="1320.14" width="3" height="2" fill="#9a9aff"/>
<rect x="296.1" y="1318.53" width="9.8" height="8.2" rx="3" fill="#0000ff"/>
<rect x="298" y="1320.83" width="3" height="2" fill="#9a9aff"/>
<rect x="300.1" y="1319.03" width="9.8" height="8.2" rx="3" fill="#0000ff"/>
<rect x="302" y="1321.33" width="3" height="2" fill="#9a9aff"/>
<rect x="304.1" y="1319.53" width="9.8" height="8.2" rx="3" fill="#0000ff"/>
<rect x="306" y="1321.83" width="3" height="2" fill="#9a9aff"/>
<rect x="308.1" y="1320.03" width="9.8" height="8.2" rx="3" fill="#0000ff"/>
<rect x="310" y="1322.33" width="3" height="2" fill="#9a9aff"/>
<rect x="312.1" y="1320.53" width="9.8" height="8.2" rx="3" fill="#0000ff"/>
<rect x="314" y="1322.83" width="3" height="2" fill="#9a9aff"/>
<rect x="316.1" y="1320.94" width="9.8" height="8.2" rx="3" fill="#0000ff"/>
<rect x="318" y="1323.24" width="3" height="2" fill="#9a9aff"/>
<rect x="320.1" y="1321.1" width="9.8" height="8.2" rx="3" fill="#0000ff"/>
<rect x="322" y="1323.4" width="3" height="2" fill="#9a9aff"/>
<rect x="324.1" y="1321.26" width="9.8" height="8.2" rx="3" fill="#0000ff"/>
<rect x="326" y="1323.56" width="3" height="2" fill="#9a9aff"/>
<rect x="328.1" y="1321.42" width="9.8" height="8.2" rx="3" fill="#0000ff"/>
<rect x="330" y="1323.72" width="3" height="2" fill="#9a9aff"/>
<rect x="332.1" y="1321.58" width="9.8" height="8.2" rx="3" fill="#0000ff"/>
<rect x="334" y="1323.88" width="3" height="2" fill="#9a9aff"/>
<rect x="336.1" y="1321.7" width="9.8" height="8.2" rx="3" fill="#0000ff"/>
<rect x="338" y="1324" width="3" height="2" fill="#9a9aff"/>
<rect x="340.1" y="1321.71" width="9.8" height="8.2" rx="3" fill="#0000ff"/>
<rect x="342" y="1324.01" width="3" height="2" fill="#9a9aff"/>
<rect x="344.1" y="1321.72" width="9.8" height="8.2" rx="3" fill="#0000ff"/>
<rect x="346" y="1324.02" width="3" height="2" fill="#9a9aff"/>
<rect x="348.1" y="1321.73" width="9.8" height="8.2" rx="3" fill="#0000ff"/>
<rect x="350" y="1324.03" width="3" height="2" fill="#9a9aff"/>
<rect x="352.1" y="1321.74" width="9.8" height="8.2" rx="3" fill="#0000ff"/>
<rect x="354" y="1324.04" width="3" height="2" fill="#9a9aff"/>
<rect x="356.1" y="1321.75" width="9.8" height="8.2" rx="3" fill="#0000ff"/>
<rect x="358" y="1324.05" width="3" height="2" fill="#9a9aff"/>
<rect x="360.1" y="1321.76" width="9.8" height="8.2" rx="3" fill="#0000ff"/>
<rect x="362" y="1324.06" width="3" height="2" fill="#9a9aff"/>
<rect x="364.1" y="1321.77" width="9.8" height="8.2" rx="3" fill="#0000ff"/>
<rect x="366" y="1324.07" width="3" height="2" fill="#9a9aff"/>
<rect x="368.1" y="1321.78" width="9.8" height="8.2" rx="3" fill="#0000ff"/>
<rect x="370" y="1324.08" width="3" height="2" fill="#9a9aff"/>
<rect x="372.1" y="1321.78" width="9.8" height="8.2" rx="3" fill="#0000ff"/>
<rect x="374" y="1324.08" width="3" height="2" fill="#9a9aff"/>
<rect x="376.1" y="1321.79" width="9.8" height="8.2" rx="3" fill="#0000ff"/>
<rect x="378" y="1324.09" width="3" height="2" fill="#9a9aff"/>
<rect x="380.1" y="1321.8" width="9.8" height="8.2" rx="3" fill="#0000ff"/>
<rect x="382" y="1324.1" width="3" height="2" fill="#9a9aff"/>
<rect x="384.1" y="1321.81" width="9.8" height="8.2" rx="3" fill="#0000ff"/>
<rect x="386" y="1324.11" width="3" height="2" fill="#9a9aff"/>
<rect x="388.1" y="1321.82" width="9.8" height="8.2" rx="3" fill="#0000ff"/>
<rect x="390" y="1324.12" width="3" height="2" fill="#9a9aff"/>
<rect x="392.1" y="1321.83" width="9.8" height="8.2" rx="3" fill="#0000ff"/>
<rect x="394" y="1324.13" width="3" height="2" fill="#9a9aff"/>
<rect x="396.1" y="1321.84" width="9.8" height="8.2" rx="3" fill="#0000ff"/>
<rect x="398" y="1324.14" width="3" height="2" fill="#9a9aff"/>
<rect x="400.1" y="1321.85" width="9.8" height="8.2" rx="3" fill="#0000ff"/>
<rect x="402" y="1324.15" width="3" height="2" fill="#9a9aff"/>
<rect x="404.1" y="1321.86" width="9.8" height="8.2" rx="3" fill="#0000ff"/>
<rect x="406" y="1324.16" width="3" height="2" fill="#9a9aff"/>
<rect x="408.1" y="1321.87" width="9.8" height="8.2" rx="3" fill="#0000ff"/>
<rect x="410" y="1324.17" width="3" height="2" fill="#9a9aff"/>
<rect x="412.1" y="1321.88" width="9.8" height="8.2" rx="3" fill="#0000ff"/>
<rect x="414" y="1324.18" width="3" height="2" fill="#9a9aff"/>
<rect x="416.1" y="1321.89" width="9.8" height="8.2" rx="3" fill="#0000ff"/>
<rect x="418" y="1324.19" width="3" height="2" fill="#9a9aff"/>
<rect x="420.1" y="1321.9" width="9.8" height="8.2" rx="3" fill="#0000ff"/>
<rect x="422" y="1324.2" width="3" height="2" fill="#9a9aff"/>
<rect x="424.1" y="1321.9" width="9.8" height="8.2" rx="3" fill="#0000ff"/>
<rect x="426" y="1324.2" width="3" height="2" fill="#9a9aff"/>
<rect x="428.1" y="1321.91" width="9.8" height="8.2" rx="3" fill="#0000ff"/>
<rect x="430" y="1324.21" width="3" height="2" fill="#9a9aff"/>
<rect x="432.1" y="1321.92" width="9.8" height="8.2" rx="3" fill="#0000ff"/>
<rect x="434" y="1324.22" width="3" height="2" fill="#9a9aff"/>
<rect x="436.1" y="1321.93" width="9.8" height="8.2" rx="3" fill="#0000ff"/>
<rect x="438" y="1324.23" width="3" height="2" fill="#9a9aff"/>
<rect x="440.1" y="1321.94" width="9.8" height="8.2" rx="3" fill="#0000ff"/>
<rect x="442" y="1324.24" width="3" height="2" fill="#9a9aff"/>
<rect x="444.1" y="1321.95" width="9.8" height="8.2" rx="3" fill="#0000ff"/>
<rect x="446" y="1324.25" width="3" height="2" fill="#9a9aff"/>
<rect x="448.1" y="1321.96" width="9.8" height="8.2" rx="3" fill="#0000ff"/>
<rect x="450" y="1324.26" width="3" height="2" fill="#9a9aff"/>
<rect x="452.1" y="1321.97" width="9.8" height="8.2" rx="3" fill="#0000ff"/>
<rect x="454" y="1324.27" width="3" height="2" fill="#9a9aff"/>
<rect x="456.1" y="1321.98" width="9.8" height="8.2" rx="3" fill="#0000ff"/>
<rect x="458" y="1324.28" width="3" height="2" fill="#9a9aff"/>
<rect x="460.1" y="1321.99" width="9.8" height="8.2" rx="3" fill="#0000ff"/>
<rect x="462" y="1324.29" width="3" height="2" fill="#9a9aff"/>
<rect x="464.1" y="1322" width="9.8" height="8.2" rx="3" fill="#0000ff"/>
<rect x="466" y="1324.3" width="3" height="2" fill="#9a9aff"/>
<rect x="468.1" y="1322.01" width="9.8" height="8.2" rx="3" fill="#0000ff"/>
<rect x="470" y="1324.31" width="3" height="2" fill="#9a9aff"/>
<rect x="472.1" y="1322.01" width="9.8" height="8.2" rx="3" fill="#0000ff"/>
<rect x="474" y="1324.31" width="3" height="2" fill="#9a9aff"/>
<rect x="476.1" y="1322.02" width="9.8" height="8.2" rx="3" fill="#0000ff"/>
<rect x="478" y="1324.32" width="3" height="2" fill="#9a9aff"/>
<rect x="480.1" y="1322.03" width="9.8" height="8.2" rx="3" fill="#0000ff"/>
<rect x="482" y="1324.33" width="3" height="2" fill="#9a9aff"/>
<rect x="484.1" y="1322.04" width="9.8" height="8.2" rx="3" fill="#0000ff"/>
<rect x="486" y="1324.34" width="3" height="2" fill="#9a9aff"/>
<rect x="488.1" y="1322.05" width="9.8" height="8.2" rx="3" fill="#0000ff"/>
<rect x="490" y="1324.35" width="3" height="2" fill="#9a9aff"/>
<rect x="492.1" y="1322.06" width="9.8" height="8.2" rx="3" fill="#0000ff"/>
<rect x="494" y="1324.36" width="3" height="2" fill="#9a9aff"/>
<rect x="496.1" y="1322.07" width="9.8" height="8.2" rx="3" fill="#0000ff"/>
<rect x="498" y="1324.37" width="3" height="2" fill="#9a9aff"/>
<rect x="500.1" y="1322.08" width="9.8" height="8.2" rx="3" fill="#0000ff"/>
<rect x="502" y="1324.38" width="3" height="2" fill="#9a9aff"/>
<rect x="504.1" y="1322.09" width="9.8" height="8.2" rx="3" fill="#0000ff"/>
<rect x="506" y="1324.39" width="3" height="2" fill="#9a9aff"/>
<rect x="508.1" y="1322.1" width="9.8" height="8.2" rx="3" fill="#0000ff"/>
<rect x="510" y="1324.4" width="3" height="2" fill="#9a9aff"/>
<rect x="512.1" y="1322.11" width="9.8" height="8.2" rx="3" fill="#0000ff"/>
<rect x="514" y="1324.41" width="3" height="2" fill="#9a9aff"/>
<rect x="516.1" y="1322.12" width="9.8" height="8.2" rx="3" fill="#0000ff"/>
<rect x="518" y="1324.42" width="3" height="2" fill="#9a9aff"/>
<rect x="520.1" y="1322.12" width="9.8" height="8.2" rx="3" fill="#0000ff"/>
<rect x="522" y="1324.42" width="3" height="2" fill="#9a9aff"/>
<rect x="524.1" y="1322.13" width="9.8" height="8.2" rx="3" fill="#0000ff"/>
<rect x="526" y="1324.43" width="3" height="2" fill="#9a9aff"/>
<rect x="528.1" y="1322.14" width="9.8" height="8.2" rx="3" fill="#0000ff"/>
<rect x="530" y="1324.44" width="3" height="2" fill="#9a9aff"/>
<rect x="532.1" y="1322.15" width="9.8" height="8.2" rx="3" fill="#0000ff"/>
<rect x="534" y="1324.45" width="3" height="2" fill="#9a9aff"/>
<rect x="536.1" y="1322.16" width="9.8" height="8.2" rx="3" fill="#0000ff"/>
<rect x="538" y="1324.46" width="3" height="2" fill="#9a9aff"/>
<rect x="540.1" y="1322.17" width="9.8" height="8.2" rx="3" fill="#0000ff"/>
<rect x="542" y="1324.47" width="3" height="2" fill="#9a9aff"/>
<rect x="544.1" y="1322.18" width="9.8" height="8.2" rx="3" fill="#0000ff"/>
<rect x="546" y="1324.48" width="3" height="2" fill="#9a9aff"/>
<rect x="548.1" y="1322.19" width="9.8" height="8.2" rx="3" fill="#0000ff"/>
<rect x="550" y="1324.49" width="3" height="2" fill="#9a9aff"/>
<rect x="552.1" y="1322.2" width="9.8" height="8.2" rx="3" fill="#0000ff"/>
<rect x="554" y="1324.5" width="3" height="2" fill="#9a9aff"/>
<rect x="556.1" y="1322.21" width="9.8" height="8.2" rx="3" fill="#0000ff"/>
<rect x="558" y="1324.51" width="3" height="2" fill="#9a9aff"/>
<rect x="560.1" y="1322.22" width="9.8" height="8.2" rx="3" fill="#0000ff"/>
<rect x="562" y="1324.52" width="3" height="2" fill="#9a9aff"/>
<rect x="564.1" y="1322.23" width="9.8" height="8.2" rx="3" fill="#0000ff"/>
<rect x="566" y="1324.53" width="3" height="2" fill="#9a9aff"/>
<rect x="568.1" y="1322.23" width="9.8" height="8.2" rx="3" fill="#0000ff"/>
<rect x="570" y="1324.53" width="3" height="2" fill="#9a9aff"/>
<rect x="572.1" y="1322.24" width="9.8" height="8.2" rx="3" fill="#0000ff"/>
<rect x="574" y="1324.54" width="3" height="2" fill="#9a9aff"/>
<rect x="576.1" y="1322.25" width="9.8" height="8.2" rx="3" fill="#0000ff"/>
<rect x="578" y="1324.55" width="3" height="2" fill="#9a9aff"/>
<rect x="580.1" y="1322.26" width="9.8" height="8.2" rx="3" fill="#0000ff"/>
<rect x="582" y="1324.56" width="3" height="2" fill="#9a9aff"/>
<rect x="584.1" y="1322.27" width="9.8" height="8.2" rx="3" fill="#0000ff"/>
<rect x="586" y="1324.57" width="3" height="2" fill="#9a9aff"/>
<rect x="588.1" y="1322.28" width="9.8" height="8.2" rx="3" fill="#0000ff"/>
<rect x="590" y="1324.58" width="3" height="2" fill="#9a9aff"/>
<rect x="592.1" y="1322.29" width="9.8" height="8.2" rx="3" fill="#0000ff"/>
<rect x="594" y="1324.59" width="3" height="2" fill="#9a9aff"/>
<rect x="596.1" y="1322.3" width="9.8" height="8.2" rx="3" fill="#0000ff"/>
<rect x="598" y="1324.6" width="3" height="2" fill="#9a9aff"/>
<rect x="600.1" y="1322.31" width="9.8" height="8.2" rx="3" fill="#0000ff"/>
<rect x="602" y="1324.61" width="3" height="2" fill="#9a9aff"/>
<rect x="604.1" y="1322.32" width="9.8" height="8.2" rx="3" fill="#0000ff"/>
<rect x="606" y="1324.62" width="3" height="2" fill="#9a9aff"/>
<rect x="608.1" y="1322.33" width="9.8" height="8.2" rx="3" fill="#0000ff"/>
<rect x="610" y="1324.63" width="3" height="2" fill="#9a9aff"/>
<rect x="612.1" y="1322.34" width="9.8" height="8.2" rx="3" fill="#0000ff"/>
<rect x="614" y="1324.64" width="3" height="2" fill="#9a9aff"/>
<rect x="616.1" y="1322.34" width="9.8" height="8.2" rx="3" fill="#0000ff"/>
<rect x="618" y="1324.64" width="3" height="2" fill="#9a9aff"/>
<rect x="620.1" y="1322.35" width="9.8" height="8.2" rx="3" fill="#0000ff"/>
<rect x="622" y="1324.65" width="3" height="2" fill="#9a9aff"/>
<rect x="624.1" y="1322.36" width="9.8" height="8.2" rx="3" fill="#0000ff"/>
<rect x="626" y="1324.66" width="3" height="2" fill="#9a9aff"/>
<rect x="628.1" y="1322.37" width="9.8" height="8.2" rx="3" fill="#0000ff"/>
<rect x="630" y="1324.67" width="3" height="2" fill="#9a9aff"/>
<rect x="632.1" y="1322.38" width="9.8" height="8.2" rx="3" fill="#0000ff"/>
<rect x="634" y="1324.68" width="3" height="2" fill="#9a9aff"/>
<rect x="636.1" y="1322.39" width="9.8" height="8.2" rx="3" fill="#0000ff"/>
<rect x="638" y="1324.69" width="3" height="2" fill="#9a9aff"/>
<rect x="640.1" y="1322.4" width="9.8" height="8.2" rx="3" fill="#0000ff"/>
<rect x="642" y="1324.7" width="3" height="2" fill="#9a9aff"/>
<polyline points="129.8,1176.02 130.8,1169 131.8,1161.67 132.8,1154.04 133.8,1146.1 134.8,1137.89 135.8,1129.42 136.8,1120.72 137.8,1111.83 138.8,1102.81 139.8,1093.73 140.8,1084.64 141.8,1075.66 142.8,1066.87 143.8,1058.38 144.8,1050.32 145.8,1042.82 146.8,1035.99 147.8,1029.98 148.8,1024.9 149.8,1020.86 150.8,1017.94 151.8,1016.22 152.8,1015.74 153.8,1016.5 154.8,1018.49 155.8,1021.66 156.8,1025.93 157.8,1031.23 158.8,1037.43 159.8,1044.41 160.8,1052.05 161.8,1060.21 162.8,1068.78 163.8,1077.62 164.8,1086.64 165.8,1095.73 166.8,1104.81 167.8,1113.8 168.8,1122.65 169.8,1131.3 170.8,1139.72 171.8,1147.87 172.8,1155.74 173.8,1163.31 174.8,1170.57 175.8,1177.52 176.8,1184.16 177.8,1190.49 178.8,1196.52 179.8,1202.26 180.8,1207.71 181.8,1212.89 182.8,1217.81 183.8,1222.48 184.8,1226.91 185.8,1231.11 186.8,1235.1 187.8,1238.88 188.8,1242.47 189.8,1245.88 190.8,1249.12 191.8,1252.19 192.8,1255.11 193.8,1257.88 194.8,1260.52 195.8,1263.03 196.8,1265.41 197.8,1267.68 198.8,1269.84 199.8,1271.9 200.8,1273.87 201.8,1275.74 202.8,1277.52 203.8,1279.23 204.8,1280.86 205.8,1282.41 206.8,1283.9 207.8,1285.32 208.8,1286.68 209.8,1287.99 210.8,1289.23 211.8,1290.43 212.8,1291.57 213.8,1292.67 214.8,1293.73 215.8,1294.74 216.8,1295.71 217.8,1296.65 218.8,1297.54 219.8,1298.41 220.8,1299.24 221.8,1300.04 222.8,1300.81 223.8,1301.55 224.8,1302.26 225.8,1302.95 226.8,1303.62 227.8,1304.26 228.8,1304.88 229.8,1305.47 230.8,1306.05 231.8,1306.61 232.8,1307.14 233.8,1307.66 234.8,1308.17 235.8,1308.65 236.8,1309.13 237.8,1309.58 238.8,1310.02 239.8,1310.45 240.8,1310.87 241.8,1311.27 242.8,1311.66 243.8,1312.03 244.8,1312.4 245.8,1312.76 246.8,1313.1 247.8,1313.44 248.8,1313.76 249.8,1314.08 250.8,1314.38 251.8,1314.68 252.8,1314.97 253.8,1315.25 254.8,1315.53 255.8,1315.79 256.8,1316.05 257.8,1316.31 258.8,1316.55 259.8,1316.79 260.8,1317.02 261.8,1317.25 262.8,1317.47 263.8,1317.69 264.8,1317.9 265.8,1318.1 266.8,1318.3 267.8,1318.5 268.8,1318.69 269.8,1318.87 270.8,1319.06 271.8,1319.23 272.8,1319.4 273.8,1319.57 274.8,1319.74 275.8,1319.9 276.8,1320.06 277.8,1320.21 278.8,1320.36 279.8,1320.51 280.8,1320.65 281.8,1320.79 282.8,1320.93 283.8,1321.06 284.8,1321.19 285.8,1321.32 286.8,1321.44 287.8,1321.57 288.8,1321.69 289.8,1321.81 290.8,1321.92 291.8,1322.03 292.8,1322.14 293.8,1322.25 294.8,1322.36 295.8,1322.46 296.8,1322.56 297.8,1322.66 298.8,1322.76 299.8,1322.86 300.8,1322.95 301.8,1323.04 302.8,1323.13 303.8,1323.22 304.8,1323.31 305.8,1323.39 306.8,1323.48 307.8,1323.56 308.8,1323.64 309.8,1323.72 310.8,1323.8 311.8,1323.87 312.8,1323.95 313.8,1324.02 314.8,1324.09 315.8,1324.16 316.8,1324.23 317.8,1324.3 318.8,1324.37 319.8,1324.44 320.8,1324.5 321.8,1324.56 322.8,1324.63 323.8,1324.69 324.8,1324.75 325.8,1324.81 326.8,1324.87 327.8,1324.92 328.8,1324.98 329.8,1325.04 330.8,1325.09 331.8,1325.15 332.8,1325.2 333.8,1325.25 334.8,1325.3 335.8,1325.35 336.8,1325.4 337.8,1325.45 338.8,1325.5 339.8,1325.55 340.8,1325.59 341.8,1325.64 342.8,1325.68 343.8,1325.73 344.8,1325.77 345.8,1325.81 346.8,1325.86 347.8,1325.9 348.8,1325.94 349.8,1325.98 350.8,1326.02 351.8,1326.06 352.8,1326.1 353.8,1326.14 354.8,1326.17 355.8,1326.21 356.8,1326.25 357.8,1326.28 358.8,1326.32 359.8,1326.36 360.8,1326.39 361.8,1326.42 362.8,1326.46 363.8,1326.49 364.8,1326.52 365.8,1326.56 366.8,1326.59 367.8,1326.62 368.8,1326.65 369.8,1326.68 370.8,1326.71 371.8,1326.74 372.8,1326.77 373.8,1326.8 374.8,1326.83 375.8,1326.85 376.8,1326.88 377.8,1326.91 378.8,1326.94 379.8,1326.96 380.8,1326.99 381.8,1327.02 382.8,1327.04 383.8,1327.07 384.8,1327.09 385.8,1327.12 386.8,1327.14 387.8,1327.16 388.8,1327.19 389.8,1327.21 390.8,1327.23 391.8,1327.26 392.8,1327.28 393.8,1327.3 394.8,1327.32 395.8,1327.35 396.8,1327.37 397.8,1327.39 398.8,1327.41 399.8,1327.43 400.8,1327.45 401.8,1327.47 402.8,1327.49 403.8,1327.51 404.8,1327.53 405.8,1327.55 406.8,1327.57 407.8,1327.59 408.8,1327.61 409.8,1327.63 410.8,1327.64 411.8,1327.66 412.8,1327.68 413.8,1327.7 414.8,1327.71 415.8,1327.73 416.8,1327.75 417.8,1327.77 418.8,1327.78 419.8,1327.8 420.8,1327.81 421.8,1327.83 422.8,1327.85 423.8,1327.86 424.8,1327.88 425.8,1327.89 426.8,1327.91 427.8,1327.92 428.8,1327.94 429.8,1327.95 430.8,1327.97 431.8,1327.98 432.8,1328 433.8,1328.01 434.8,1328.02 435.8,1328.04 436.8,1328.05 437.8,1328.07 438.8,1328.08 439.8,1328.09 440.8,1328.11 441.8,1328.12 442.8,1328.13 443.8,1328.14 444.8,1328.16 445.8,1328.17 446.8,1328.18 447.8,1328.19 448.8,1328.21 449.8,1328.22 450.8,1328.23 451.8,1328.24 452.8,1328.25 453.8,1328.26 454.8,1328.28 455.8,1328.29 456.8,1328.3 457.8,1328.31 458.8,1328.32 459.8,1328.33 460.8,1328.34 461.8,1328.35 462.8,1328.36 463.8,1328.37 464.8,1328.38 465.8,1328.39 466.8,1328.4 467.8,1328.41 468.8,1328.42 469.8,1328.43 470.8,1328.44 471.8,1328.45 472.8,1328.46 473.8,1328.47 474.8,1328.48 475.8,1328.49 476.8,1328.5 477.8,1328.51 478.8,1328.52 479.8,1328.53 480.8,1328.54 481.8,1328.55 482.8,1328.56 483.8,1328.56 484.8,1328.57 485.8,1328.58 486.8,1328.59 487.8,1328.6 488.8,1328.61 489.8,1328.61 490.8,1328.62 491.8,1328.63 492.8,1328.64 493.8,1328.65 494.8,1328.65 495.8,1328.66 496.8,1328.67 497.8,1328.68 498.8,1328.69 499.8,1328.69 500.8,1328.7 501.8,1328.71 502.8,1328.71 503.8,1328.72 504.8,1328.73 505.8,1328.74 506.8,1328.74 507.8,1328.75 508.8,1328.76 509.8,1328.76 510.8,1328.77 511.8,1328.78 512.8,1328.78 513.8,1328.79 514.8,1328.8 515.8,1328.8 516.8,1328.81 517.8,1328.82 518.8,1328.82 519.8,1328.83 520.8,1328.84 521.8,1328.84 522.8,1328.85 523.8,1328.86 524.8,1328.86 525.8,1328.87 526.8,1328.87 527.8,1328.88 528.8,1328.89 529.8,1328.89 530.8,1328.9 531.8,1328.9 532.8,1328.91 533.8,1328.91 534.8,1328.92 535.8,1328.93 536.8,1328.93 537.8,1328.94 538.8,1328.94 539.8,1328.95 540.8,1328.95 541.8,1328.96 542.8,1328.96 543.8,1328.97 544.8,1328.97 545.8,1328.98 546.8,1328.98 547.8,1328.99 548.8,1329 549.8,1329 550.8,1329.01 551.8,1329.01 552.8,1329.02 553.8,1329.02 554.8,1329.02 555.8,1329.03 556.8,1329.03 557.8,1329.04 558.8,1329.04 559.8,1329.05 560.8,1329.05 561.8,1329.06 562.8,1329.06 563.8,1329.07 564.8,1329.07 565.8,1329.08 566.8,1329.08 567.8,1329.08 568.8,1329.09 569.8,1329.09 570.8,1329.1 571.8,1329.1 572.8,1329.11 573.8,1329.11 574.8,1329.11 575.8,1329.12 576.8,1329.12 577.8,1329.13 578.8,1329.13 579.8,1329.14 580.8,1329.14 581.8,1329.14 582.8,1329.15 583.8,1329.15 584.8,1329.16 585.8,1329.16 586.8,1329.16 587.8,1329.17 588.8,1329.17 589.8,1329.17 590.8,1329.18 591.8,1329.18 592.8,1329.19 593.8,1329.19 594.8,1329.19 595.8,1329.2 596.8,1329.2 597.8,1329.2 598.8,1329.21 599.8,1329.21 600.8,1329.21 601.8,1329.22 602.8,1329.22 603.8,1329.22 604.8,1329.23 605.8,1329.23 606.8,1329.23 607.8,1329.24 608.8,1329.24 609.8,1329.24 610.8,1329.25 611.8,1329.25 612.8,1329.25 613.8,1329.26 614.8,1329.26 615.8,1329.26 616.8,1329.27 617.8,1329.27 618.8,1329.27 619.8,1329.28 620.8,1329.28 621.8,1329.28 622.8,1329.29 623.8,1329.29 624.8,1329.29 625.8,1329.29 626.8,1329.3 627.8,1329.3 628.8,1329.3 629.8,1329.31 630.8,1329.31 631.8,1329.31 632.8,1329.32 633.8,1329.32 634.8,1329.32 635.8,1329.32 636.8,1329.33 637.8,1329.33 638.8,1329.33 639.8,1329.33 640.8,1329.34 641.8,1329.34 642.8,1329.34" fill="none" stroke="#ff0000" stroke-width="2"/>
<rect x="470.8" y="985.2" width="194.4" height="42.8" fill="#fff" stroke="#000" stroke-width="2"/>
<rect x="488.6" y="993.7" width="9.8" height="8.2" rx="3" fill="#0000ff"/>
<rect x="490.5" y="996" width="3" height="2" fill="#9a9aff"/>
<rect x="472" y="1017.6" width="42.4" height="2" fill="#ff0000"/>
<text x="520.1" y="1002.7" font-family="Liberation Serif" font-size="17" font-weight="bold" fill="#333" text-anchor="start" textLength="140.4" lengthAdjust="spacingAndGlyphs">Resistivity(Ω·m)</text>
<text x="520.1" y="1021.4" font-family="Liberation Serif" font-size="17" font-weight="bold" fill="#333" text-anchor="start" textLength="90.2" lengthAdjust="spacingAndGlyphs">Fit a curve</text>
<rect x="325" y="1033.2" width="352.3" height="180.5" fill="#fff"/>
<rect x="324" y="1032.2" width="354.3" height="2" fill="#000"/>
<rect x="324" y="1048.8" width="354.3" height="2" fill="#000"/>
<rect x="324" y="1075.9" width="354.3" height="2" fill="#000"/>
<rect x="324" y="1093" width="354.3" height="2" fill="#000"/>
<rect x="324" y="1122.5" width="354.3" height="2" fill="#000"/>
<rect x="324" y="1137.4" width="354.3" height="2" fill="#000"/>
<rect x="324" y="1152.1" width="354.3" height="2" fill="#000"/>
<rect x="324" y="1168.5" width="354.3" height="2" fill="#000"/>
<rect x="324" y="1183.8" width="354.3" height="2" fill="#000"/>
<rect x="324" y="1198.5" width="354.3" height="2" fill="#000"/>
<rect x="324" y="1212.7" width="354.3" height="2" fill="#000"/>
<rect x="324" y="1032.2" width="2" height="182.5" fill="#000"/>
<rect x="450.9" y="1032.2" width="2" height="182.5" fill="#000"/>
<rect x="676.3" y="1032.2" width="2" height="182.5" fill="#000"/>
<text x="328" y="1044.96" font-family="Liberation Mono" font-size="10.5" font-weight="normal" fill="#909090" text-anchor="start" textLength="36.5" lengthAdjust="spacingAndGlyphs">Model</text>
<text x="564.6" y="1042.96" font-family="Liberation Mono" font-size="10.5" font-weight="normal" fill="#909090" text-anchor="middle" textLength="52.5" lengthAdjust="spacingAndGlyphs">Lorentz</text>
<text x="328" y="1066.81" font-family="Liberation Mono" font-size="10.5" font-weight="normal" fill="#909090" text-anchor="start" textLength="58.4" lengthAdjust="spacingAndGlyphs">Equation</text>
<text x="564.6" y="1058.81" font-family="Liberation Mono" font-size="10.5" font-weight="normal" fill="#909090" text-anchor="middle" textLength="212" lengthAdjust="spacingAndGlyphs">y = y0 + (2*A/pi)*(w/(4*(x-xc</text>
<text x="564.6" y="1070.81" font-family="Liberation Mono" font-size="10.5" font-weight="normal" fill="#909090" text-anchor="middle" textLength="82.5" lengthAdjust="spacingAndGlyphs">)^2 + w^2))</text>
<text x="328" y="1088.91" font-family="Liberation Mono" font-size="10.5" font-weight="normal" fill="#909090" text-anchor="start" textLength="29.2" lengthAdjust="spacingAndGlyphs">Plot</text>
<text x="564.6" y="1086.91" font-family="Liberation Mono" font-size="10.5" font-weight="normal" fill="#909090" text-anchor="middle" textLength="7.5" lengthAdjust="spacingAndGlyphs">0</text>
<text x="328" y="1112.21" font-family="Liberation Mono" font-size="10.5" font-weight="normal" fill="#909090" text-anchor="start" textLength="14.6" lengthAdjust="spacingAndGlyphs">y0</text>
<text x="564.6" y="1104.21" font-family="Liberation Mono" font-size="10.5" font-weight="normal" fill="#909090" text-anchor="middle" textLength="210" lengthAdjust="spacingAndGlyphs">-1878450.53998 ± 1000278.913</text>
<text x="564.6" y="1116.21" font-family="Liberation Mono" font-size="10.5" font-weight="normal" fill="#909090" text-anchor="middle" textLength="15" lengthAdjust="spacingAndGlyphs">48</text>
<text x="328" y="1134.41" font-family="Liberation Mono" font-size="10.5" font-weight="normal" fill="#909090" text-anchor="start" textLength="14.6" lengthAdjust="spacingAndGlyphs">xc</text>
<text x="564.6" y="1132.41" font-family="Liberation Mono" font-size="10.5" font-weight="normal" fill="#909090" text-anchor="middle" textLength="127.5" lengthAdjust="spacingAndGlyphs">65.7003 ± 0.36555</text>
<text x="328" y="1149.21" font-family="Liberation Mono" font-size="10.5" font-weight="normal" fill="#909090" text-anchor="start" textLength="7.3" lengthAdjust="spacingAndGlyphs">w</text>
<text x="564.6" y="1147.21" font-family="Liberation Mono" font-size="10.5" font-weight="normal" fill="#909090" text-anchor="middle" textLength="135" lengthAdjust="spacingAndGlyphs">37.89454 ± 1.14371</text>
<text x="328" y="1164.76" font-family="Liberation Mono" font-size="10.5" font-weight="normal" fill="#909090" text-anchor="start" textLength="7.3" lengthAdjust="spacingAndGlyphs">A</text>
<text x="564.6" y="1162.76" font-family="Liberation Mono" font-size="10.5" font-weight="normal" fill="#909090" text-anchor="middle" textLength="165" lengthAdjust="spacingAndGlyphs">3.65936E10 ± 6.02616E8</text>
<text x="328" y="1180.62" font-family="Liberation Mono" font-size="10.5" font-weight="normal" fill="#909090" text-anchor="start" textLength="109.5" lengthAdjust="spacingAndGlyphs">Reduced Chi-Sqr</text>
<text x="564.6" y="1178.62" font-family="Liberation Mono" font-size="10.5" font-weight="normal" fill="#909090" text-anchor="middle" textLength="75" lengthAdjust="spacingAndGlyphs">5.02068E13</text>
<text x="328" y="1195.62" font-family="Liberation Mono" font-size="10.5" font-weight="normal" fill="#909090" text-anchor="start" textLength="102.2" lengthAdjust="spacingAndGlyphs">R-Square (COD)</text>
<text x="564.6" y="1193.62" font-family="Liberation Mono" font-size="10.5" font-weight="normal" fill="#909090" text-anchor="middle" textLength="52.5" lengthAdjust="spacingAndGlyphs">0.99459</text>
<text x="328" y="1210.06" font-family="Liberation Mono" font-size="10.5" font-weight="normal" fill="#909090" text-anchor="start" textLength="94.9" lengthAdjust="spacingAndGlyphs">Adj. R-Square</text>
<text x="564.6" y="1208.06" font-family="Liberation Mono" font-size="10.5" font-weight="normal" fill="#909090" text-anchor="middle" textLength="52.5" lengthAdjust="spacingAndGlyphs">0.99456</text>
</svg>
</body></html>
